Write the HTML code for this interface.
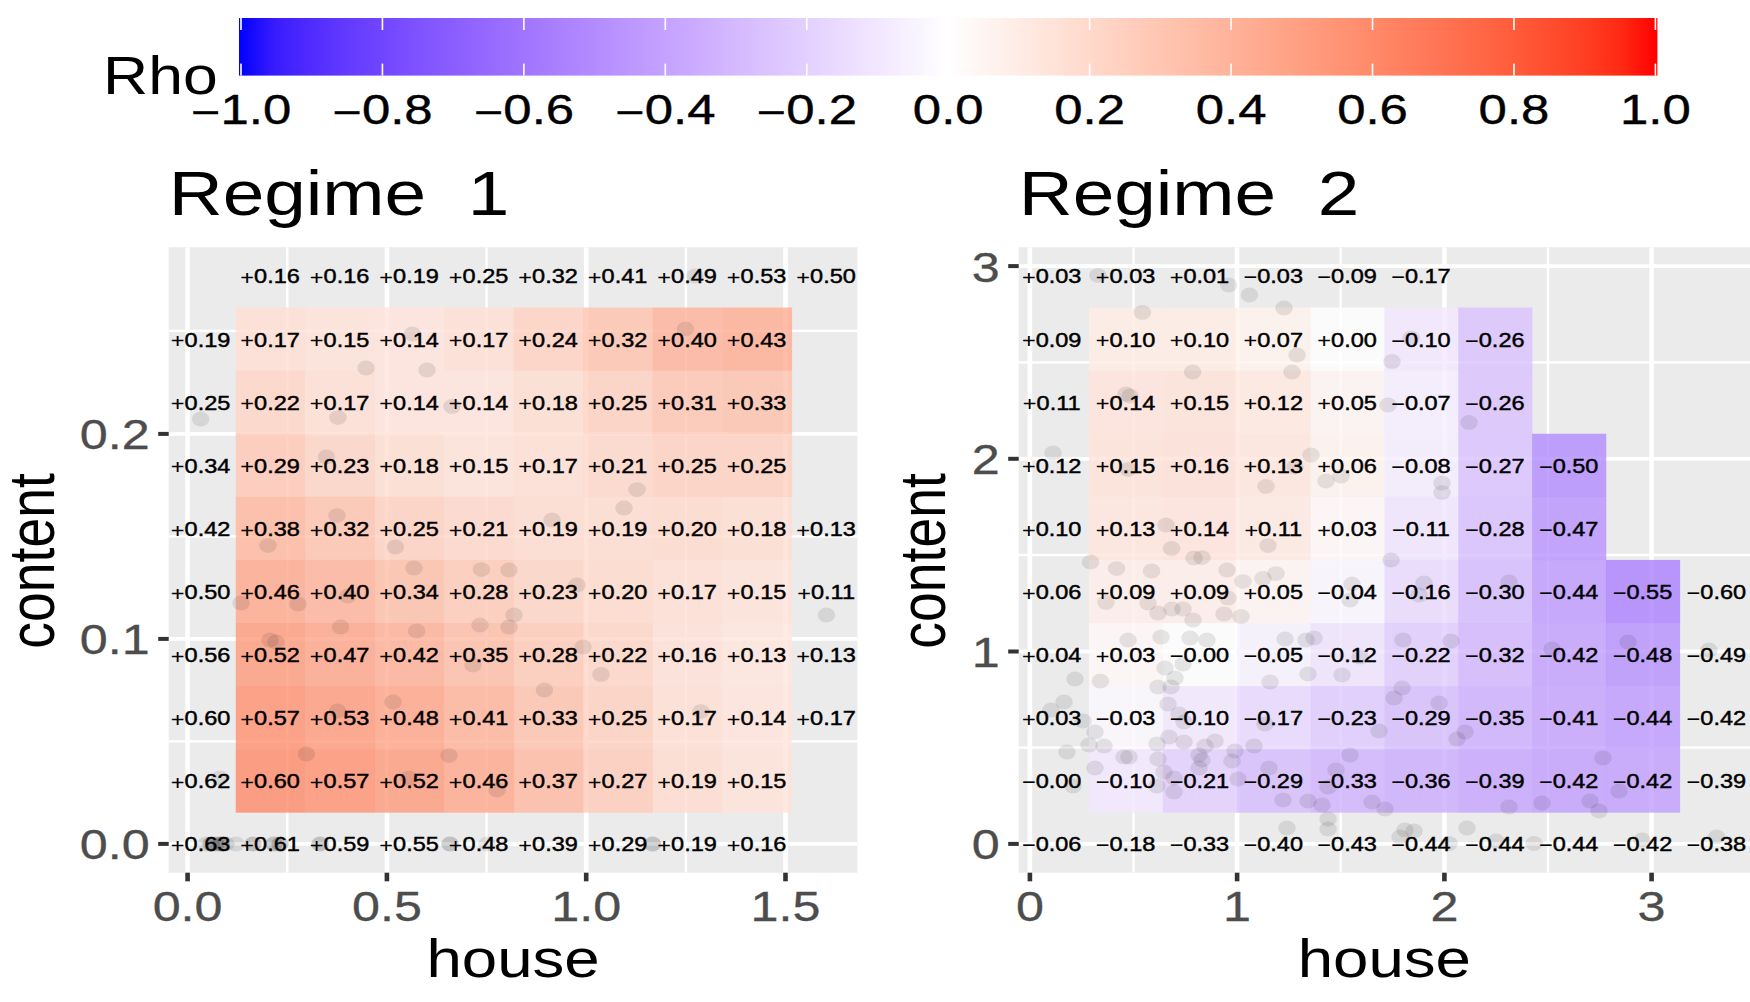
<!DOCTYPE html>
<html><head><meta charset="utf-8"><title>Rho regimes</title>
<style>html,body{margin:0;padding:0;background:#fff;overflow:hidden}svg{display:block}</style>
</head><body>
<svg width="1750" height="1002" viewBox="0 0 1750 1002" font-family="Liberation Sans, Arial, Helvetica, sans-serif">
<defs><linearGradient id="cb" x1="0" x2="1" y1="0" y2="0"><stop offset="0.0000" stop-color="#0000ff"/><stop offset="0.0250" stop-color="#381bff"/><stop offset="0.0500" stop-color="#502bff"/><stop offset="0.0750" stop-color="#6239ff"/><stop offset="0.1000" stop-color="#7145ff"/><stop offset="0.1250" stop-color="#7e52ff"/><stop offset="0.1500" stop-color="#8a5dff"/><stop offset="0.1750" stop-color="#9569ff"/><stop offset="0.2000" stop-color="#a074ff"/><stop offset="0.2250" stop-color="#aa80ff"/><stop offset="0.2500" stop-color="#b38bff"/><stop offset="0.2750" stop-color="#bc97ff"/><stop offset="0.3000" stop-color="#c4a2ff"/><stop offset="0.3250" stop-color="#ccadff"/><stop offset="0.3500" stop-color="#d4b9ff"/><stop offset="0.3750" stop-color="#dcc4ff"/><stop offset="0.4000" stop-color="#e3d0ff"/><stop offset="0.4250" stop-color="#ebdcff"/><stop offset="0.4500" stop-color="#f2e7ff"/><stop offset="0.4750" stop-color="#f8f3ff"/><stop offset="0.5000" stop-color="#ffffff"/><stop offset="0.5250" stop-color="#fff5f2"/><stop offset="0.5500" stop-color="#ffece5"/><stop offset="0.5750" stop-color="#ffe2d8"/><stop offset="0.6000" stop-color="#ffd9cb"/><stop offset="0.6250" stop-color="#ffcfbf"/><stop offset="0.6500" stop-color="#ffc6b2"/><stop offset="0.6750" stop-color="#ffbca6"/><stop offset="0.7000" stop-color="#ffb299"/><stop offset="0.7250" stop-color="#ffa88d"/><stop offset="0.7500" stop-color="#ff9e81"/><stop offset="0.7750" stop-color="#ff9475"/><stop offset="0.8000" stop-color="#ff8969"/><stop offset="0.8250" stop-color="#ff7e5e"/><stop offset="0.8500" stop-color="#ff7352"/><stop offset="0.8750" stop-color="#ff6846"/><stop offset="0.9000" stop-color="#ff5b3a"/><stop offset="0.9250" stop-color="#ff4d2e"/><stop offset="0.9500" stop-color="#ff3e22"/><stop offset="0.9750" stop-color="#ff2913"/><stop offset="1.0000" stop-color="#ff0000"/></linearGradient></defs>
<rect width="1750" height="1002" fill="#fff"/>
<rect x="239" y="18" width="1418.4" height="57.599999999999994" fill="url(#cb)"/>
<rect x="240.20" y="18" width="1.6" height="12" fill="#fff"/>
<rect x="240.20" y="63.599999999999994" width="1.6" height="12" fill="#fff"/>
<text transform="translate(241.00,124.00) scale(1.2,1)" font-size="42.4" fill="#000" text-anchor="middle" stroke="#000" stroke-width="0.4"><tspan dy="3.4" stroke-width="0.1">−</tspan><tspan dy="-3.4">1.0</tspan></text>
<rect x="381.64" y="18" width="1.6" height="12" fill="#fff"/>
<rect x="381.64" y="63.599999999999994" width="1.6" height="12" fill="#fff"/>
<text transform="translate(382.44,124.00) scale(1.2,1)" font-size="42.4" fill="#000" text-anchor="middle" stroke="#000" stroke-width="0.4"><tspan dy="3.4" stroke-width="0.1">−</tspan><tspan dy="-3.4">0.8</tspan></text>
<rect x="523.08" y="18" width="1.6" height="12" fill="#fff"/>
<rect x="523.08" y="63.599999999999994" width="1.6" height="12" fill="#fff"/>
<text transform="translate(523.88,124.00) scale(1.2,1)" font-size="42.4" fill="#000" text-anchor="middle" stroke="#000" stroke-width="0.4"><tspan dy="3.4" stroke-width="0.1">−</tspan><tspan dy="-3.4">0.6</tspan></text>
<rect x="664.52" y="18" width="1.6" height="12" fill="#fff"/>
<rect x="664.52" y="63.599999999999994" width="1.6" height="12" fill="#fff"/>
<text transform="translate(665.32,124.00) scale(1.2,1)" font-size="42.4" fill="#000" text-anchor="middle" stroke="#000" stroke-width="0.4"><tspan dy="3.4" stroke-width="0.1">−</tspan><tspan dy="-3.4">0.4</tspan></text>
<rect x="805.96" y="18" width="1.6" height="12" fill="#fff"/>
<rect x="805.96" y="63.599999999999994" width="1.6" height="12" fill="#fff"/>
<text transform="translate(806.76,124.00) scale(1.2,1)" font-size="42.4" fill="#000" text-anchor="middle" stroke="#000" stroke-width="0.4"><tspan dy="3.4" stroke-width="0.1">−</tspan><tspan dy="-3.4">0.2</tspan></text>
<rect x="947.40" y="18" width="1.6" height="12" fill="#fff"/>
<rect x="947.40" y="63.599999999999994" width="1.6" height="12" fill="#fff"/>
<text transform="translate(948.20,124.00) scale(1.2,1)" font-size="42.4" fill="#000" text-anchor="middle" stroke="#000" stroke-width="0.4">0.0</text>
<rect x="1088.84" y="18" width="1.6" height="12" fill="#fff"/>
<rect x="1088.84" y="63.599999999999994" width="1.6" height="12" fill="#fff"/>
<text transform="translate(1089.64,124.00) scale(1.2,1)" font-size="42.4" fill="#000" text-anchor="middle" stroke="#000" stroke-width="0.4">0.2</text>
<rect x="1230.28" y="18" width="1.6" height="12" fill="#fff"/>
<rect x="1230.28" y="63.599999999999994" width="1.6" height="12" fill="#fff"/>
<text transform="translate(1231.08,124.00) scale(1.2,1)" font-size="42.4" fill="#000" text-anchor="middle" stroke="#000" stroke-width="0.4">0.4</text>
<rect x="1371.72" y="18" width="1.6" height="12" fill="#fff"/>
<rect x="1371.72" y="63.599999999999994" width="1.6" height="12" fill="#fff"/>
<text transform="translate(1372.52,124.00) scale(1.2,1)" font-size="42.4" fill="#000" text-anchor="middle" stroke="#000" stroke-width="0.4">0.6</text>
<rect x="1513.16" y="18" width="1.6" height="12" fill="#fff"/>
<rect x="1513.16" y="63.599999999999994" width="1.6" height="12" fill="#fff"/>
<text transform="translate(1513.96,124.00) scale(1.2,1)" font-size="42.4" fill="#000" text-anchor="middle" stroke="#000" stroke-width="0.4">0.8</text>
<rect x="1654.60" y="18" width="1.6" height="12" fill="#fff"/>
<rect x="1654.60" y="63.599999999999994" width="1.6" height="12" fill="#fff"/>
<text transform="translate(1655.40,124.00) scale(1.2,1)" font-size="42.4" fill="#000" text-anchor="middle" stroke="#000" stroke-width="0.4">1.0</text>
<text transform="translate(103.00,94.00) scale(1.18,1)" font-size="53" fill="#000" text-anchor="start" >Rho</text>
<clipPath id="clip1"><rect x="168.7" y="247.2" width="688.7" height="625.5"/></clipPath>
<rect x="168.7" y="247.2" width="688.7" height="625.5" fill="#ebebeb"/>
<g clip-path="url(#clip1)">
<rect x="286.10" y="247.2" width="2.4" height="625.5" fill="#fff"/>
<rect x="485.40" y="247.2" width="2.4" height="625.5" fill="#fff"/>
<rect x="684.70" y="247.2" width="2.4" height="625.5" fill="#fff"/>
<rect x="168.7" y="740.20" width="688.7" height="2.4" fill="#fff"/>
<rect x="168.7" y="535.20" width="688.7" height="2.4" fill="#fff"/>
<rect x="168.7" y="329.70" width="688.7" height="2.4" fill="#fff"/>
<rect x="185.30" y="247.2" width="4.6" height="625.5" fill="#fff"/>
<rect x="384.60" y="247.2" width="4.6" height="625.5" fill="#fff"/>
<rect x="583.90" y="247.2" width="4.6" height="625.5" fill="#fff"/>
<rect x="783.20" y="247.2" width="4.6" height="625.5" fill="#fff"/>
<rect x="168.7" y="842.00" width="688.7" height="3.8" fill="#fff"/>
<rect x="168.7" y="637.00" width="688.7" height="3.8" fill="#fff"/>
<rect x="168.7" y="432.00" width="688.7" height="3.8" fill="#fff"/>
<rect x="235.75" y="307.55" width="69.80" height="63.40" fill="#ffdfd3" fill-opacity="0.8"/>
<rect x="305.25" y="307.55" width="69.80" height="63.40" fill="#ffe2d8" fill-opacity="0.8"/>
<rect x="374.75" y="307.55" width="69.80" height="63.40" fill="#ffe4db" fill-opacity="0.8"/>
<rect x="444.25" y="307.55" width="69.80" height="63.40" fill="#ffdfd3" fill-opacity="0.8"/>
<rect x="513.75" y="307.55" width="69.80" height="63.40" fill="#ffd1c1" fill-opacity="0.8"/>
<rect x="583.25" y="307.55" width="69.80" height="63.40" fill="#ffc2ad" fill-opacity="0.8"/>
<rect x="652.75" y="307.55" width="69.80" height="63.40" fill="#ffb299" fill-opacity="0.8"/>
<rect x="722.25" y="307.55" width="69.80" height="63.40" fill="#ffac92" fill-opacity="0.8"/>
<rect x="235.75" y="370.65" width="69.80" height="63.40" fill="#ffd5c6" fill-opacity="0.8"/>
<rect x="305.25" y="370.65" width="69.80" height="63.40" fill="#ffdfd3" fill-opacity="0.8"/>
<rect x="374.75" y="370.65" width="69.80" height="63.40" fill="#ffe4db" fill-opacity="0.8"/>
<rect x="444.25" y="370.65" width="69.80" height="63.40" fill="#ffe4db" fill-opacity="0.8"/>
<rect x="513.75" y="370.65" width="69.80" height="63.40" fill="#ffddd0" fill-opacity="0.8"/>
<rect x="583.25" y="370.65" width="69.80" height="63.40" fill="#ffcfbf" fill-opacity="0.8"/>
<rect x="652.75" y="370.65" width="69.80" height="63.40" fill="#ffc4b0" fill-opacity="0.8"/>
<rect x="722.25" y="370.65" width="69.80" height="63.40" fill="#ffc0ab" fill-opacity="0.8"/>
<rect x="235.75" y="433.75" width="69.80" height="63.40" fill="#ffc7b5" fill-opacity="0.8"/>
<rect x="305.25" y="433.75" width="69.80" height="63.40" fill="#ffd3c4" fill-opacity="0.8"/>
<rect x="374.75" y="433.75" width="69.80" height="63.40" fill="#ffddd0" fill-opacity="0.8"/>
<rect x="444.25" y="433.75" width="69.80" height="63.40" fill="#ffe2d8" fill-opacity="0.8"/>
<rect x="513.75" y="433.75" width="69.80" height="63.40" fill="#ffdfd3" fill-opacity="0.8"/>
<rect x="583.25" y="433.75" width="69.80" height="63.40" fill="#ffd7c9" fill-opacity="0.8"/>
<rect x="652.75" y="433.75" width="69.80" height="63.40" fill="#ffcfbf" fill-opacity="0.8"/>
<rect x="722.25" y="433.75" width="69.80" height="63.40" fill="#ffcfbf" fill-opacity="0.8"/>
<rect x="235.75" y="496.85" width="69.80" height="63.40" fill="#ffb69e" fill-opacity="0.8"/>
<rect x="305.25" y="496.85" width="69.80" height="63.40" fill="#ffc2ad" fill-opacity="0.8"/>
<rect x="374.75" y="496.85" width="69.80" height="63.40" fill="#ffcfbf" fill-opacity="0.8"/>
<rect x="444.25" y="496.85" width="69.80" height="63.40" fill="#ffd7c9" fill-opacity="0.8"/>
<rect x="513.75" y="496.85" width="69.80" height="63.40" fill="#ffdbce" fill-opacity="0.8"/>
<rect x="583.25" y="496.85" width="69.80" height="63.40" fill="#ffdbce" fill-opacity="0.8"/>
<rect x="652.75" y="496.85" width="69.80" height="63.40" fill="#ffd9cb" fill-opacity="0.8"/>
<rect x="722.25" y="496.85" width="69.80" height="63.40" fill="#ffddd0" fill-opacity="0.8"/>
<rect x="235.75" y="559.95" width="69.80" height="63.40" fill="#ffa68b" fill-opacity="0.8"/>
<rect x="305.25" y="559.95" width="69.80" height="63.40" fill="#ffb299" fill-opacity="0.8"/>
<rect x="374.75" y="559.95" width="69.80" height="63.40" fill="#ffbea8" fill-opacity="0.8"/>
<rect x="444.25" y="559.95" width="69.80" height="63.40" fill="#ffc9b7" fill-opacity="0.8"/>
<rect x="513.75" y="559.95" width="69.80" height="63.40" fill="#ffd3c4" fill-opacity="0.8"/>
<rect x="583.25" y="559.95" width="69.80" height="63.40" fill="#ffd9cb" fill-opacity="0.8"/>
<rect x="652.75" y="559.95" width="69.80" height="63.40" fill="#ffdfd3" fill-opacity="0.8"/>
<rect x="722.25" y="559.95" width="69.80" height="63.40" fill="#ffe2d8" fill-opacity="0.8"/>
<rect x="235.75" y="623.05" width="69.80" height="63.40" fill="#ff9a7c" fill-opacity="0.8"/>
<rect x="305.25" y="623.05" width="69.80" height="63.40" fill="#ffa488" fill-opacity="0.8"/>
<rect x="374.75" y="623.05" width="69.80" height="63.40" fill="#ffae95" fill-opacity="0.8"/>
<rect x="444.25" y="623.05" width="69.80" height="63.40" fill="#ffbca6" fill-opacity="0.8"/>
<rect x="513.75" y="623.05" width="69.80" height="63.40" fill="#ffc9b7" fill-opacity="0.8"/>
<rect x="583.25" y="623.05" width="69.80" height="63.40" fill="#ffd5c6" fill-opacity="0.8"/>
<rect x="652.75" y="623.05" width="69.80" height="63.40" fill="#ffe0d6" fill-opacity="0.8"/>
<rect x="722.25" y="623.05" width="69.80" height="63.40" fill="#ffe6dd" fill-opacity="0.8"/>
<rect x="235.75" y="686.15" width="69.80" height="63.40" fill="#ff9071" fill-opacity="0.8"/>
<rect x="305.25" y="686.15" width="69.80" height="63.40" fill="#ff987a" fill-opacity="0.8"/>
<rect x="374.75" y="686.15" width="69.80" height="63.40" fill="#ffa286" fill-opacity="0.8"/>
<rect x="444.25" y="686.15" width="69.80" height="63.40" fill="#ffb097" fill-opacity="0.8"/>
<rect x="513.75" y="686.15" width="69.80" height="63.40" fill="#ffc0ab" fill-opacity="0.8"/>
<rect x="583.25" y="686.15" width="69.80" height="63.40" fill="#ffcfbf" fill-opacity="0.8"/>
<rect x="652.75" y="686.15" width="69.80" height="63.40" fill="#ffdfd3" fill-opacity="0.8"/>
<rect x="722.25" y="686.15" width="69.80" height="63.40" fill="#ffe4db" fill-opacity="0.8"/>
<rect x="235.75" y="749.25" width="69.80" height="63.40" fill="#ff8969" fill-opacity="0.8"/>
<rect x="305.25" y="749.25" width="69.80" height="63.40" fill="#ff9071" fill-opacity="0.8"/>
<rect x="374.75" y="749.25" width="69.80" height="63.40" fill="#ff9a7c" fill-opacity="0.8"/>
<rect x="444.25" y="749.25" width="69.80" height="63.40" fill="#ffa68b" fill-opacity="0.8"/>
<rect x="513.75" y="749.25" width="69.80" height="63.40" fill="#ffb8a1" fill-opacity="0.8"/>
<rect x="583.25" y="749.25" width="69.80" height="63.40" fill="#ffcbba" fill-opacity="0.8"/>
<rect x="652.75" y="749.25" width="69.80" height="63.40" fill="#ffdbce" fill-opacity="0.8"/>
<rect x="722.25" y="749.25" width="69.80" height="63.40" fill="#ffe2d8" fill-opacity="0.8"/>
<ellipse cx="412.4" cy="334" rx="8.8" ry="7.4" fill="#000" fill-opacity="0.09"/>
<ellipse cx="366" cy="368" rx="8.8" ry="7.4" fill="#000" fill-opacity="0.09"/>
<ellipse cx="427" cy="370" rx="8.8" ry="7.4" fill="#000" fill-opacity="0.09"/>
<ellipse cx="200.6" cy="419" rx="8.8" ry="7.4" fill="#000" fill-opacity="0.09"/>
<ellipse cx="338" cy="417.6" rx="8.8" ry="7.4" fill="#000" fill-opacity="0.09"/>
<ellipse cx="452" cy="406.4" rx="8.8" ry="7.4" fill="#000" fill-opacity="0.09"/>
<ellipse cx="695" cy="276" rx="8.8" ry="7.4" fill="#000" fill-opacity="0.09"/>
<ellipse cx="685.4" cy="329" rx="8.8" ry="7.4" fill="#000" fill-opacity="0.09"/>
<ellipse cx="326.4" cy="457" rx="8.8" ry="7.4" fill="#000" fill-opacity="0.09"/>
<ellipse cx="337" cy="515.6" rx="8.8" ry="7.4" fill="#000" fill-opacity="0.09"/>
<ellipse cx="268" cy="545.6" rx="8.8" ry="7.4" fill="#000" fill-opacity="0.09"/>
<ellipse cx="395.4" cy="547" rx="8.8" ry="7.4" fill="#000" fill-opacity="0.09"/>
<ellipse cx="414" cy="568" rx="8.8" ry="7.4" fill="#000" fill-opacity="0.09"/>
<ellipse cx="481.4" cy="569.6" rx="8.8" ry="7.4" fill="#000" fill-opacity="0.09"/>
<ellipse cx="509" cy="570" rx="8.8" ry="7.4" fill="#000" fill-opacity="0.09"/>
<ellipse cx="241" cy="603" rx="8.8" ry="7.4" fill="#000" fill-opacity="0.09"/>
<ellipse cx="298" cy="604" rx="8.8" ry="7.4" fill="#000" fill-opacity="0.09"/>
<ellipse cx="348" cy="596" rx="8.8" ry="7.4" fill="#000" fill-opacity="0.09"/>
<ellipse cx="340.6" cy="627" rx="8.8" ry="7.4" fill="#000" fill-opacity="0.09"/>
<ellipse cx="416.6" cy="631" rx="8.8" ry="7.4" fill="#000" fill-opacity="0.09"/>
<ellipse cx="480" cy="625" rx="8.8" ry="7.4" fill="#000" fill-opacity="0.09"/>
<ellipse cx="509" cy="627" rx="8.8" ry="7.4" fill="#000" fill-opacity="0.09"/>
<ellipse cx="514" cy="615" rx="8.8" ry="7.4" fill="#000" fill-opacity="0.09"/>
<ellipse cx="637" cy="489.6" rx="8.8" ry="7.4" fill="#000" fill-opacity="0.09"/>
<ellipse cx="624" cy="508" rx="8.8" ry="7.4" fill="#000" fill-opacity="0.09"/>
<ellipse cx="552" cy="520" rx="8.8" ry="7.4" fill="#000" fill-opacity="0.09"/>
<ellipse cx="577" cy="585" rx="8.8" ry="7.4" fill="#000" fill-opacity="0.09"/>
<ellipse cx="826.4" cy="615" rx="8.8" ry="7.4" fill="#000" fill-opacity="0.09"/>
<ellipse cx="270" cy="640" rx="8.8" ry="7.4" fill="#000" fill-opacity="0.09"/>
<ellipse cx="276" cy="642" rx="8.8" ry="7.4" fill="#000" fill-opacity="0.09"/>
<ellipse cx="473" cy="665" rx="8.8" ry="7.4" fill="#000" fill-opacity="0.09"/>
<ellipse cx="393" cy="702" rx="8.8" ry="7.4" fill="#000" fill-opacity="0.09"/>
<ellipse cx="337.6" cy="711" rx="8.8" ry="7.4" fill="#000" fill-opacity="0.09"/>
<ellipse cx="306.4" cy="754" rx="8.8" ry="7.4" fill="#000" fill-opacity="0.09"/>
<ellipse cx="449" cy="755.6" rx="8.8" ry="7.4" fill="#000" fill-opacity="0.09"/>
<ellipse cx="220" cy="778" rx="8.8" ry="7.4" fill="#000" fill-opacity="0.09"/>
<ellipse cx="409" cy="778" rx="8.8" ry="7.4" fill="#000" fill-opacity="0.09"/>
<ellipse cx="497" cy="790" rx="8.8" ry="7.4" fill="#000" fill-opacity="0.09"/>
<ellipse cx="583" cy="647" rx="8.8" ry="7.4" fill="#000" fill-opacity="0.09"/>
<ellipse cx="601" cy="674.4" rx="8.8" ry="7.4" fill="#000" fill-opacity="0.09"/>
<ellipse cx="544.4" cy="690" rx="8.8" ry="7.4" fill="#000" fill-opacity="0.09"/>
<ellipse cx="701" cy="711.6" rx="8.8" ry="7.4" fill="#000" fill-opacity="0.09"/>
<ellipse cx="206" cy="844" rx="8.8" ry="7.4" fill="#000" fill-opacity="0.09"/>
<ellipse cx="211" cy="844" rx="8.8" ry="7.4" fill="#000" fill-opacity="0.09"/>
<ellipse cx="211" cy="844" rx="8.8" ry="7.4" fill="#000" fill-opacity="0.09"/>
<ellipse cx="216" cy="844" rx="8.8" ry="7.4" fill="#000" fill-opacity="0.09"/>
<ellipse cx="216" cy="844" rx="8.8" ry="7.4" fill="#000" fill-opacity="0.09"/>
<ellipse cx="221" cy="844" rx="8.8" ry="7.4" fill="#000" fill-opacity="0.09"/>
<ellipse cx="221" cy="844" rx="8.8" ry="7.4" fill="#000" fill-opacity="0.09"/>
<ellipse cx="221" cy="844" rx="8.8" ry="7.4" fill="#000" fill-opacity="0.09"/>
<ellipse cx="226" cy="844" rx="8.8" ry="7.4" fill="#000" fill-opacity="0.09"/>
<ellipse cx="236" cy="844" rx="8.8" ry="7.4" fill="#000" fill-opacity="0.09"/>
<ellipse cx="253" cy="844" rx="8.8" ry="7.4" fill="#000" fill-opacity="0.09"/>
<ellipse cx="253" cy="844" rx="8.8" ry="7.4" fill="#000" fill-opacity="0.09"/>
<ellipse cx="274" cy="844" rx="8.8" ry="7.4" fill="#000" fill-opacity="0.09"/>
<ellipse cx="274" cy="844" rx="8.8" ry="7.4" fill="#000" fill-opacity="0.09"/>
<ellipse cx="280" cy="844" rx="8.8" ry="7.4" fill="#000" fill-opacity="0.09"/>
<ellipse cx="280" cy="844" rx="8.8" ry="7.4" fill="#000" fill-opacity="0.09"/>
<ellipse cx="320" cy="844" rx="8.8" ry="7.4" fill="#000" fill-opacity="0.09"/>
<ellipse cx="320" cy="844" rx="8.8" ry="7.4" fill="#000" fill-opacity="0.09"/>
<ellipse cx="450" cy="844" rx="8.8" ry="7.4" fill="#000" fill-opacity="0.09"/>
<ellipse cx="450" cy="844" rx="8.8" ry="7.4" fill="#000" fill-opacity="0.09"/>
<ellipse cx="487" cy="844" rx="8.8" ry="7.4" fill="#000" fill-opacity="0.09"/>
<ellipse cx="652.5" cy="844" rx="8.8" ry="7.4" fill="#000" fill-opacity="0.09"/>
<ellipse cx="652.5" cy="844" rx="8.8" ry="7.4" fill="#000" fill-opacity="0.09"/>
<text transform="translate(270.10,283.40) scale(1.165,1)" font-size="20.2" fill="#000" text-anchor="middle" stroke="#000" stroke-width="0.45"><tspan dy="1.7" stroke-width="0.1">+</tspan><tspan dy="-1.7">0.16</tspan></text>
<text transform="translate(339.60,283.40) scale(1.165,1)" font-size="20.2" fill="#000" text-anchor="middle" stroke="#000" stroke-width="0.45"><tspan dy="1.7" stroke-width="0.1">+</tspan><tspan dy="-1.7">0.16</tspan></text>
<text transform="translate(409.10,283.40) scale(1.165,1)" font-size="20.2" fill="#000" text-anchor="middle" stroke="#000" stroke-width="0.45"><tspan dy="1.7" stroke-width="0.1">+</tspan><tspan dy="-1.7">0.19</tspan></text>
<text transform="translate(478.60,283.40) scale(1.165,1)" font-size="20.2" fill="#000" text-anchor="middle" stroke="#000" stroke-width="0.45"><tspan dy="1.7" stroke-width="0.1">+</tspan><tspan dy="-1.7">0.25</tspan></text>
<text transform="translate(548.10,283.40) scale(1.165,1)" font-size="20.2" fill="#000" text-anchor="middle" stroke="#000" stroke-width="0.45"><tspan dy="1.7" stroke-width="0.1">+</tspan><tspan dy="-1.7">0.32</tspan></text>
<text transform="translate(617.60,283.40) scale(1.165,1)" font-size="20.2" fill="#000" text-anchor="middle" stroke="#000" stroke-width="0.45"><tspan dy="1.7" stroke-width="0.1">+</tspan><tspan dy="-1.7">0.41</tspan></text>
<text transform="translate(687.10,283.40) scale(1.165,1)" font-size="20.2" fill="#000" text-anchor="middle" stroke="#000" stroke-width="0.45"><tspan dy="1.7" stroke-width="0.1">+</tspan><tspan dy="-1.7">0.49</tspan></text>
<text transform="translate(756.60,283.40) scale(1.165,1)" font-size="20.2" fill="#000" text-anchor="middle" stroke="#000" stroke-width="0.45"><tspan dy="1.7" stroke-width="0.1">+</tspan><tspan dy="-1.7">0.53</tspan></text>
<text transform="translate(826.10,283.40) scale(1.165,1)" font-size="20.2" fill="#000" text-anchor="middle" stroke="#000" stroke-width="0.45"><tspan dy="1.7" stroke-width="0.1">+</tspan><tspan dy="-1.7">0.50</tspan></text>
<text transform="translate(200.60,346.50) scale(1.165,1)" font-size="20.2" fill="#000" text-anchor="middle" stroke="#000" stroke-width="0.45"><tspan dy="1.7" stroke-width="0.1">+</tspan><tspan dy="-1.7">0.19</tspan></text>
<text transform="translate(270.10,346.50) scale(1.165,1)" font-size="20.2" fill="#000" text-anchor="middle" stroke="#000" stroke-width="0.45"><tspan dy="1.7" stroke-width="0.1">+</tspan><tspan dy="-1.7">0.17</tspan></text>
<text transform="translate(339.60,346.50) scale(1.165,1)" font-size="20.2" fill="#000" text-anchor="middle" stroke="#000" stroke-width="0.45"><tspan dy="1.7" stroke-width="0.1">+</tspan><tspan dy="-1.7">0.15</tspan></text>
<text transform="translate(409.10,346.50) scale(1.165,1)" font-size="20.2" fill="#000" text-anchor="middle" stroke="#000" stroke-width="0.45"><tspan dy="1.7" stroke-width="0.1">+</tspan><tspan dy="-1.7">0.14</tspan></text>
<text transform="translate(478.60,346.50) scale(1.165,1)" font-size="20.2" fill="#000" text-anchor="middle" stroke="#000" stroke-width="0.45"><tspan dy="1.7" stroke-width="0.1">+</tspan><tspan dy="-1.7">0.17</tspan></text>
<text transform="translate(548.10,346.50) scale(1.165,1)" font-size="20.2" fill="#000" text-anchor="middle" stroke="#000" stroke-width="0.45"><tspan dy="1.7" stroke-width="0.1">+</tspan><tspan dy="-1.7">0.24</tspan></text>
<text transform="translate(617.60,346.50) scale(1.165,1)" font-size="20.2" fill="#000" text-anchor="middle" stroke="#000" stroke-width="0.45"><tspan dy="1.7" stroke-width="0.1">+</tspan><tspan dy="-1.7">0.32</tspan></text>
<text transform="translate(687.10,346.50) scale(1.165,1)" font-size="20.2" fill="#000" text-anchor="middle" stroke="#000" stroke-width="0.45"><tspan dy="1.7" stroke-width="0.1">+</tspan><tspan dy="-1.7">0.40</tspan></text>
<text transform="translate(756.60,346.50) scale(1.165,1)" font-size="20.2" fill="#000" text-anchor="middle" stroke="#000" stroke-width="0.45"><tspan dy="1.7" stroke-width="0.1">+</tspan><tspan dy="-1.7">0.43</tspan></text>
<text transform="translate(200.60,409.60) scale(1.165,1)" font-size="20.2" fill="#000" text-anchor="middle" stroke="#000" stroke-width="0.45"><tspan dy="1.7" stroke-width="0.1">+</tspan><tspan dy="-1.7">0.25</tspan></text>
<text transform="translate(270.10,409.60) scale(1.165,1)" font-size="20.2" fill="#000" text-anchor="middle" stroke="#000" stroke-width="0.45"><tspan dy="1.7" stroke-width="0.1">+</tspan><tspan dy="-1.7">0.22</tspan></text>
<text transform="translate(339.60,409.60) scale(1.165,1)" font-size="20.2" fill="#000" text-anchor="middle" stroke="#000" stroke-width="0.45"><tspan dy="1.7" stroke-width="0.1">+</tspan><tspan dy="-1.7">0.17</tspan></text>
<text transform="translate(409.10,409.60) scale(1.165,1)" font-size="20.2" fill="#000" text-anchor="middle" stroke="#000" stroke-width="0.45"><tspan dy="1.7" stroke-width="0.1">+</tspan><tspan dy="-1.7">0.14</tspan></text>
<text transform="translate(478.60,409.60) scale(1.165,1)" font-size="20.2" fill="#000" text-anchor="middle" stroke="#000" stroke-width="0.45"><tspan dy="1.7" stroke-width="0.1">+</tspan><tspan dy="-1.7">0.14</tspan></text>
<text transform="translate(548.10,409.60) scale(1.165,1)" font-size="20.2" fill="#000" text-anchor="middle" stroke="#000" stroke-width="0.45"><tspan dy="1.7" stroke-width="0.1">+</tspan><tspan dy="-1.7">0.18</tspan></text>
<text transform="translate(617.60,409.60) scale(1.165,1)" font-size="20.2" fill="#000" text-anchor="middle" stroke="#000" stroke-width="0.45"><tspan dy="1.7" stroke-width="0.1">+</tspan><tspan dy="-1.7">0.25</tspan></text>
<text transform="translate(687.10,409.60) scale(1.165,1)" font-size="20.2" fill="#000" text-anchor="middle" stroke="#000" stroke-width="0.45"><tspan dy="1.7" stroke-width="0.1">+</tspan><tspan dy="-1.7">0.31</tspan></text>
<text transform="translate(756.60,409.60) scale(1.165,1)" font-size="20.2" fill="#000" text-anchor="middle" stroke="#000" stroke-width="0.45"><tspan dy="1.7" stroke-width="0.1">+</tspan><tspan dy="-1.7">0.33</tspan></text>
<text transform="translate(200.60,472.70) scale(1.165,1)" font-size="20.2" fill="#000" text-anchor="middle" stroke="#000" stroke-width="0.45"><tspan dy="1.7" stroke-width="0.1">+</tspan><tspan dy="-1.7">0.34</tspan></text>
<text transform="translate(270.10,472.70) scale(1.165,1)" font-size="20.2" fill="#000" text-anchor="middle" stroke="#000" stroke-width="0.45"><tspan dy="1.7" stroke-width="0.1">+</tspan><tspan dy="-1.7">0.29</tspan></text>
<text transform="translate(339.60,472.70) scale(1.165,1)" font-size="20.2" fill="#000" text-anchor="middle" stroke="#000" stroke-width="0.45"><tspan dy="1.7" stroke-width="0.1">+</tspan><tspan dy="-1.7">0.23</tspan></text>
<text transform="translate(409.10,472.70) scale(1.165,1)" font-size="20.2" fill="#000" text-anchor="middle" stroke="#000" stroke-width="0.45"><tspan dy="1.7" stroke-width="0.1">+</tspan><tspan dy="-1.7">0.18</tspan></text>
<text transform="translate(478.60,472.70) scale(1.165,1)" font-size="20.2" fill="#000" text-anchor="middle" stroke="#000" stroke-width="0.45"><tspan dy="1.7" stroke-width="0.1">+</tspan><tspan dy="-1.7">0.15</tspan></text>
<text transform="translate(548.10,472.70) scale(1.165,1)" font-size="20.2" fill="#000" text-anchor="middle" stroke="#000" stroke-width="0.45"><tspan dy="1.7" stroke-width="0.1">+</tspan><tspan dy="-1.7">0.17</tspan></text>
<text transform="translate(617.60,472.70) scale(1.165,1)" font-size="20.2" fill="#000" text-anchor="middle" stroke="#000" stroke-width="0.45"><tspan dy="1.7" stroke-width="0.1">+</tspan><tspan dy="-1.7">0.21</tspan></text>
<text transform="translate(687.10,472.70) scale(1.165,1)" font-size="20.2" fill="#000" text-anchor="middle" stroke="#000" stroke-width="0.45"><tspan dy="1.7" stroke-width="0.1">+</tspan><tspan dy="-1.7">0.25</tspan></text>
<text transform="translate(756.60,472.70) scale(1.165,1)" font-size="20.2" fill="#000" text-anchor="middle" stroke="#000" stroke-width="0.45"><tspan dy="1.7" stroke-width="0.1">+</tspan><tspan dy="-1.7">0.25</tspan></text>
<text transform="translate(200.60,535.80) scale(1.165,1)" font-size="20.2" fill="#000" text-anchor="middle" stroke="#000" stroke-width="0.45"><tspan dy="1.7" stroke-width="0.1">+</tspan><tspan dy="-1.7">0.42</tspan></text>
<text transform="translate(270.10,535.80) scale(1.165,1)" font-size="20.2" fill="#000" text-anchor="middle" stroke="#000" stroke-width="0.45"><tspan dy="1.7" stroke-width="0.1">+</tspan><tspan dy="-1.7">0.38</tspan></text>
<text transform="translate(339.60,535.80) scale(1.165,1)" font-size="20.2" fill="#000" text-anchor="middle" stroke="#000" stroke-width="0.45"><tspan dy="1.7" stroke-width="0.1">+</tspan><tspan dy="-1.7">0.32</tspan></text>
<text transform="translate(409.10,535.80) scale(1.165,1)" font-size="20.2" fill="#000" text-anchor="middle" stroke="#000" stroke-width="0.45"><tspan dy="1.7" stroke-width="0.1">+</tspan><tspan dy="-1.7">0.25</tspan></text>
<text transform="translate(478.60,535.80) scale(1.165,1)" font-size="20.2" fill="#000" text-anchor="middle" stroke="#000" stroke-width="0.45"><tspan dy="1.7" stroke-width="0.1">+</tspan><tspan dy="-1.7">0.21</tspan></text>
<text transform="translate(548.10,535.80) scale(1.165,1)" font-size="20.2" fill="#000" text-anchor="middle" stroke="#000" stroke-width="0.45"><tspan dy="1.7" stroke-width="0.1">+</tspan><tspan dy="-1.7">0.19</tspan></text>
<text transform="translate(617.60,535.80) scale(1.165,1)" font-size="20.2" fill="#000" text-anchor="middle" stroke="#000" stroke-width="0.45"><tspan dy="1.7" stroke-width="0.1">+</tspan><tspan dy="-1.7">0.19</tspan></text>
<text transform="translate(687.10,535.80) scale(1.165,1)" font-size="20.2" fill="#000" text-anchor="middle" stroke="#000" stroke-width="0.45"><tspan dy="1.7" stroke-width="0.1">+</tspan><tspan dy="-1.7">0.20</tspan></text>
<text transform="translate(756.60,535.80) scale(1.165,1)" font-size="20.2" fill="#000" text-anchor="middle" stroke="#000" stroke-width="0.45"><tspan dy="1.7" stroke-width="0.1">+</tspan><tspan dy="-1.7">0.18</tspan></text>
<text transform="translate(826.10,535.80) scale(1.165,1)" font-size="20.2" fill="#000" text-anchor="middle" stroke="#000" stroke-width="0.45"><tspan dy="1.7" stroke-width="0.1">+</tspan><tspan dy="-1.7">0.13</tspan></text>
<text transform="translate(200.60,598.90) scale(1.165,1)" font-size="20.2" fill="#000" text-anchor="middle" stroke="#000" stroke-width="0.45"><tspan dy="1.7" stroke-width="0.1">+</tspan><tspan dy="-1.7">0.50</tspan></text>
<text transform="translate(270.10,598.90) scale(1.165,1)" font-size="20.2" fill="#000" text-anchor="middle" stroke="#000" stroke-width="0.45"><tspan dy="1.7" stroke-width="0.1">+</tspan><tspan dy="-1.7">0.46</tspan></text>
<text transform="translate(339.60,598.90) scale(1.165,1)" font-size="20.2" fill="#000" text-anchor="middle" stroke="#000" stroke-width="0.45"><tspan dy="1.7" stroke-width="0.1">+</tspan><tspan dy="-1.7">0.40</tspan></text>
<text transform="translate(409.10,598.90) scale(1.165,1)" font-size="20.2" fill="#000" text-anchor="middle" stroke="#000" stroke-width="0.45"><tspan dy="1.7" stroke-width="0.1">+</tspan><tspan dy="-1.7">0.34</tspan></text>
<text transform="translate(478.60,598.90) scale(1.165,1)" font-size="20.2" fill="#000" text-anchor="middle" stroke="#000" stroke-width="0.45"><tspan dy="1.7" stroke-width="0.1">+</tspan><tspan dy="-1.7">0.28</tspan></text>
<text transform="translate(548.10,598.90) scale(1.165,1)" font-size="20.2" fill="#000" text-anchor="middle" stroke="#000" stroke-width="0.45"><tspan dy="1.7" stroke-width="0.1">+</tspan><tspan dy="-1.7">0.23</tspan></text>
<text transform="translate(617.60,598.90) scale(1.165,1)" font-size="20.2" fill="#000" text-anchor="middle" stroke="#000" stroke-width="0.45"><tspan dy="1.7" stroke-width="0.1">+</tspan><tspan dy="-1.7">0.20</tspan></text>
<text transform="translate(687.10,598.90) scale(1.165,1)" font-size="20.2" fill="#000" text-anchor="middle" stroke="#000" stroke-width="0.45"><tspan dy="1.7" stroke-width="0.1">+</tspan><tspan dy="-1.7">0.17</tspan></text>
<text transform="translate(756.60,598.90) scale(1.165,1)" font-size="20.2" fill="#000" text-anchor="middle" stroke="#000" stroke-width="0.45"><tspan dy="1.7" stroke-width="0.1">+</tspan><tspan dy="-1.7">0.15</tspan></text>
<text transform="translate(826.10,598.90) scale(1.165,1)" font-size="20.2" fill="#000" text-anchor="middle" stroke="#000" stroke-width="0.45"><tspan dy="1.7" stroke-width="0.1">+</tspan><tspan dy="-1.7">0.11</tspan></text>
<text transform="translate(200.60,662.00) scale(1.165,1)" font-size="20.2" fill="#000" text-anchor="middle" stroke="#000" stroke-width="0.45"><tspan dy="1.7" stroke-width="0.1">+</tspan><tspan dy="-1.7">0.56</tspan></text>
<text transform="translate(270.10,662.00) scale(1.165,1)" font-size="20.2" fill="#000" text-anchor="middle" stroke="#000" stroke-width="0.45"><tspan dy="1.7" stroke-width="0.1">+</tspan><tspan dy="-1.7">0.52</tspan></text>
<text transform="translate(339.60,662.00) scale(1.165,1)" font-size="20.2" fill="#000" text-anchor="middle" stroke="#000" stroke-width="0.45"><tspan dy="1.7" stroke-width="0.1">+</tspan><tspan dy="-1.7">0.47</tspan></text>
<text transform="translate(409.10,662.00) scale(1.165,1)" font-size="20.2" fill="#000" text-anchor="middle" stroke="#000" stroke-width="0.45"><tspan dy="1.7" stroke-width="0.1">+</tspan><tspan dy="-1.7">0.42</tspan></text>
<text transform="translate(478.60,662.00) scale(1.165,1)" font-size="20.2" fill="#000" text-anchor="middle" stroke="#000" stroke-width="0.45"><tspan dy="1.7" stroke-width="0.1">+</tspan><tspan dy="-1.7">0.35</tspan></text>
<text transform="translate(548.10,662.00) scale(1.165,1)" font-size="20.2" fill="#000" text-anchor="middle" stroke="#000" stroke-width="0.45"><tspan dy="1.7" stroke-width="0.1">+</tspan><tspan dy="-1.7">0.28</tspan></text>
<text transform="translate(617.60,662.00) scale(1.165,1)" font-size="20.2" fill="#000" text-anchor="middle" stroke="#000" stroke-width="0.45"><tspan dy="1.7" stroke-width="0.1">+</tspan><tspan dy="-1.7">0.22</tspan></text>
<text transform="translate(687.10,662.00) scale(1.165,1)" font-size="20.2" fill="#000" text-anchor="middle" stroke="#000" stroke-width="0.45"><tspan dy="1.7" stroke-width="0.1">+</tspan><tspan dy="-1.7">0.16</tspan></text>
<text transform="translate(756.60,662.00) scale(1.165,1)" font-size="20.2" fill="#000" text-anchor="middle" stroke="#000" stroke-width="0.45"><tspan dy="1.7" stroke-width="0.1">+</tspan><tspan dy="-1.7">0.13</tspan></text>
<text transform="translate(826.10,662.00) scale(1.165,1)" font-size="20.2" fill="#000" text-anchor="middle" stroke="#000" stroke-width="0.45"><tspan dy="1.7" stroke-width="0.1">+</tspan><tspan dy="-1.7">0.13</tspan></text>
<text transform="translate(200.60,725.10) scale(1.165,1)" font-size="20.2" fill="#000" text-anchor="middle" stroke="#000" stroke-width="0.45"><tspan dy="1.7" stroke-width="0.1">+</tspan><tspan dy="-1.7">0.60</tspan></text>
<text transform="translate(270.10,725.10) scale(1.165,1)" font-size="20.2" fill="#000" text-anchor="middle" stroke="#000" stroke-width="0.45"><tspan dy="1.7" stroke-width="0.1">+</tspan><tspan dy="-1.7">0.57</tspan></text>
<text transform="translate(339.60,725.10) scale(1.165,1)" font-size="20.2" fill="#000" text-anchor="middle" stroke="#000" stroke-width="0.45"><tspan dy="1.7" stroke-width="0.1">+</tspan><tspan dy="-1.7">0.53</tspan></text>
<text transform="translate(409.10,725.10) scale(1.165,1)" font-size="20.2" fill="#000" text-anchor="middle" stroke="#000" stroke-width="0.45"><tspan dy="1.7" stroke-width="0.1">+</tspan><tspan dy="-1.7">0.48</tspan></text>
<text transform="translate(478.60,725.10) scale(1.165,1)" font-size="20.2" fill="#000" text-anchor="middle" stroke="#000" stroke-width="0.45"><tspan dy="1.7" stroke-width="0.1">+</tspan><tspan dy="-1.7">0.41</tspan></text>
<text transform="translate(548.10,725.10) scale(1.165,1)" font-size="20.2" fill="#000" text-anchor="middle" stroke="#000" stroke-width="0.45"><tspan dy="1.7" stroke-width="0.1">+</tspan><tspan dy="-1.7">0.33</tspan></text>
<text transform="translate(617.60,725.10) scale(1.165,1)" font-size="20.2" fill="#000" text-anchor="middle" stroke="#000" stroke-width="0.45"><tspan dy="1.7" stroke-width="0.1">+</tspan><tspan dy="-1.7">0.25</tspan></text>
<text transform="translate(687.10,725.10) scale(1.165,1)" font-size="20.2" fill="#000" text-anchor="middle" stroke="#000" stroke-width="0.45"><tspan dy="1.7" stroke-width="0.1">+</tspan><tspan dy="-1.7">0.17</tspan></text>
<text transform="translate(756.60,725.10) scale(1.165,1)" font-size="20.2" fill="#000" text-anchor="middle" stroke="#000" stroke-width="0.45"><tspan dy="1.7" stroke-width="0.1">+</tspan><tspan dy="-1.7">0.14</tspan></text>
<text transform="translate(826.10,725.10) scale(1.165,1)" font-size="20.2" fill="#000" text-anchor="middle" stroke="#000" stroke-width="0.45"><tspan dy="1.7" stroke-width="0.1">+</tspan><tspan dy="-1.7">0.17</tspan></text>
<text transform="translate(200.60,788.20) scale(1.165,1)" font-size="20.2" fill="#000" text-anchor="middle" stroke="#000" stroke-width="0.45"><tspan dy="1.7" stroke-width="0.1">+</tspan><tspan dy="-1.7">0.62</tspan></text>
<text transform="translate(270.10,788.20) scale(1.165,1)" font-size="20.2" fill="#000" text-anchor="middle" stroke="#000" stroke-width="0.45"><tspan dy="1.7" stroke-width="0.1">+</tspan><tspan dy="-1.7">0.60</tspan></text>
<text transform="translate(339.60,788.20) scale(1.165,1)" font-size="20.2" fill="#000" text-anchor="middle" stroke="#000" stroke-width="0.45"><tspan dy="1.7" stroke-width="0.1">+</tspan><tspan dy="-1.7">0.57</tspan></text>
<text transform="translate(409.10,788.20) scale(1.165,1)" font-size="20.2" fill="#000" text-anchor="middle" stroke="#000" stroke-width="0.45"><tspan dy="1.7" stroke-width="0.1">+</tspan><tspan dy="-1.7">0.52</tspan></text>
<text transform="translate(478.60,788.20) scale(1.165,1)" font-size="20.2" fill="#000" text-anchor="middle" stroke="#000" stroke-width="0.45"><tspan dy="1.7" stroke-width="0.1">+</tspan><tspan dy="-1.7">0.46</tspan></text>
<text transform="translate(548.10,788.20) scale(1.165,1)" font-size="20.2" fill="#000" text-anchor="middle" stroke="#000" stroke-width="0.45"><tspan dy="1.7" stroke-width="0.1">+</tspan><tspan dy="-1.7">0.37</tspan></text>
<text transform="translate(617.60,788.20) scale(1.165,1)" font-size="20.2" fill="#000" text-anchor="middle" stroke="#000" stroke-width="0.45"><tspan dy="1.7" stroke-width="0.1">+</tspan><tspan dy="-1.7">0.27</tspan></text>
<text transform="translate(687.10,788.20) scale(1.165,1)" font-size="20.2" fill="#000" text-anchor="middle" stroke="#000" stroke-width="0.45"><tspan dy="1.7" stroke-width="0.1">+</tspan><tspan dy="-1.7">0.19</tspan></text>
<text transform="translate(756.60,788.20) scale(1.165,1)" font-size="20.2" fill="#000" text-anchor="middle" stroke="#000" stroke-width="0.45"><tspan dy="1.7" stroke-width="0.1">+</tspan><tspan dy="-1.7">0.15</tspan></text>
<text transform="translate(200.60,851.30) scale(1.165,1)" font-size="20.2" fill="#000" text-anchor="middle" stroke="#000" stroke-width="0.45"><tspan dy="1.7" stroke-width="0.1">+</tspan><tspan dy="-1.7">0.63</tspan></text>
<text transform="translate(270.10,851.30) scale(1.165,1)" font-size="20.2" fill="#000" text-anchor="middle" stroke="#000" stroke-width="0.45"><tspan dy="1.7" stroke-width="0.1">+</tspan><tspan dy="-1.7">0.61</tspan></text>
<text transform="translate(339.60,851.30) scale(1.165,1)" font-size="20.2" fill="#000" text-anchor="middle" stroke="#000" stroke-width="0.45"><tspan dy="1.7" stroke-width="0.1">+</tspan><tspan dy="-1.7">0.59</tspan></text>
<text transform="translate(409.10,851.30) scale(1.165,1)" font-size="20.2" fill="#000" text-anchor="middle" stroke="#000" stroke-width="0.45"><tspan dy="1.7" stroke-width="0.1">+</tspan><tspan dy="-1.7">0.55</tspan></text>
<text transform="translate(478.60,851.30) scale(1.165,1)" font-size="20.2" fill="#000" text-anchor="middle" stroke="#000" stroke-width="0.45"><tspan dy="1.7" stroke-width="0.1">+</tspan><tspan dy="-1.7">0.48</tspan></text>
<text transform="translate(548.10,851.30) scale(1.165,1)" font-size="20.2" fill="#000" text-anchor="middle" stroke="#000" stroke-width="0.45"><tspan dy="1.7" stroke-width="0.1">+</tspan><tspan dy="-1.7">0.39</tspan></text>
<text transform="translate(617.60,851.30) scale(1.165,1)" font-size="20.2" fill="#000" text-anchor="middle" stroke="#000" stroke-width="0.45"><tspan dy="1.7" stroke-width="0.1">+</tspan><tspan dy="-1.7">0.29</tspan></text>
<text transform="translate(687.10,851.30) scale(1.165,1)" font-size="20.2" fill="#000" text-anchor="middle" stroke="#000" stroke-width="0.45"><tspan dy="1.7" stroke-width="0.1">+</tspan><tspan dy="-1.7">0.19</tspan></text>
<text transform="translate(756.60,851.30) scale(1.165,1)" font-size="20.2" fill="#000" text-anchor="middle" stroke="#000" stroke-width="0.45"><tspan dy="1.7" stroke-width="0.1">+</tspan><tspan dy="-1.7">0.16</tspan></text>
</g>
<rect x="185.30" y="872.7" width="4.6" height="8.6" fill="#333"/>
<text transform="translate(187.60,920.60) scale(1.17,1)" font-size="43" fill="#4d4d4d" text-anchor="middle" stroke="#4d4d4d" stroke-width="0.3">0.0</text>
<rect x="384.60" y="872.7" width="4.6" height="8.6" fill="#333"/>
<text transform="translate(386.90,920.60) scale(1.17,1)" font-size="43" fill="#4d4d4d" text-anchor="middle" stroke="#4d4d4d" stroke-width="0.3">0.5</text>
<rect x="583.90" y="872.7" width="4.6" height="8.6" fill="#333"/>
<text transform="translate(586.20,920.60) scale(1.17,1)" font-size="43" fill="#4d4d4d" text-anchor="middle" stroke="#4d4d4d" stroke-width="0.3">1.0</text>
<rect x="783.20" y="872.7" width="4.6" height="8.6" fill="#333"/>
<text transform="translate(785.50,920.60) scale(1.17,1)" font-size="43" fill="#4d4d4d" text-anchor="middle" stroke="#4d4d4d" stroke-width="0.3">1.5</text>
<rect x="158.20" y="841.90" width="10.5" height="4" fill="#333"/>
<text transform="translate(149.70,859.30) scale(1.17,1)" font-size="43" fill="#4d4d4d" text-anchor="end" stroke="#4d4d4d" stroke-width="0.3">0.0</text>
<rect x="158.20" y="636.90" width="10.5" height="4" fill="#333"/>
<text transform="translate(149.70,654.30) scale(1.17,1)" font-size="43" fill="#4d4d4d" text-anchor="end" stroke="#4d4d4d" stroke-width="0.3">0.1</text>
<rect x="158.20" y="431.90" width="10.5" height="4" fill="#333"/>
<text transform="translate(149.70,449.30) scale(1.17,1)" font-size="43" fill="#4d4d4d" text-anchor="end" stroke="#4d4d4d" stroke-width="0.3">0.2</text>
<text transform="translate(168.70,215.00) scale(1.175,1)" font-size="63.6" fill="#000" text-anchor="start" xml:space="preserve">Regime  1</text>
<text transform="translate(513.05,977.00) scale(1.2,1)" font-size="53" fill="#000" text-anchor="middle" >house</text>
<text transform="translate(53.50,560.95) scale(1.2,1) rotate(-90)" font-size="53.5" fill="#000" text-anchor="middle" >content</text>
<clipPath id="clip2"><rect x="1018.7" y="247.2" width="731.3" height="625.5"/></clipPath>
<rect x="1018.7" y="247.2" width="731.3" height="625.5" fill="#ebebeb"/>
<g clip-path="url(#clip2)">
<rect x="1132.30" y="247.2" width="2.4" height="625.5" fill="#fff"/>
<rect x="1339.50" y="247.2" width="2.4" height="625.5" fill="#fff"/>
<rect x="1546.80" y="247.2" width="2.4" height="625.5" fill="#fff"/>
<rect x="1018.7" y="746.40" width="731.3" height="2.4" fill="#fff"/>
<rect x="1018.7" y="553.80" width="731.3" height="2.4" fill="#fff"/>
<rect x="1018.7" y="361.20" width="731.3" height="2.4" fill="#fff"/>
<rect x="1027.60" y="247.2" width="4.6" height="625.5" fill="#fff"/>
<rect x="1234.80" y="247.2" width="4.6" height="625.5" fill="#fff"/>
<rect x="1442.10" y="247.2" width="4.6" height="625.5" fill="#fff"/>
<rect x="1649.30" y="247.2" width="4.6" height="625.5" fill="#fff"/>
<rect x="1018.7" y="842.00" width="731.3" height="3.8" fill="#fff"/>
<rect x="1018.7" y="649.60" width="731.3" height="3.8" fill="#fff"/>
<rect x="1018.7" y="456.90" width="731.3" height="3.8" fill="#fff"/>
<rect x="1018.7" y="264.20" width="731.3" height="3.8" fill="#fff"/>
<rect x="1089.02" y="307.55" width="74.15" height="63.40" fill="#ffece5" fill-opacity="0.8"/>
<rect x="1162.88" y="307.55" width="74.15" height="63.40" fill="#ffece5" fill-opacity="0.8"/>
<rect x="1236.72" y="307.55" width="74.15" height="63.40" fill="#fff2ed" fill-opacity="0.8"/>
<rect x="1310.57" y="307.55" width="74.15" height="63.40" fill="#ffffff" fill-opacity="0.8"/>
<rect x="1384.42" y="307.55" width="74.15" height="63.40" fill="#f2e7ff" fill-opacity="0.8"/>
<rect x="1458.27" y="307.55" width="74.15" height="63.40" fill="#dac2ff" fill-opacity="0.8"/>
<rect x="1089.02" y="370.65" width="74.15" height="63.40" fill="#ffe4db" fill-opacity="0.8"/>
<rect x="1162.88" y="370.65" width="74.15" height="63.40" fill="#ffe2d8" fill-opacity="0.8"/>
<rect x="1236.72" y="370.65" width="74.15" height="63.40" fill="#ffe8e0" fill-opacity="0.8"/>
<rect x="1310.57" y="370.65" width="74.15" height="63.40" fill="#fff5f2" fill-opacity="0.8"/>
<rect x="1384.42" y="370.65" width="74.15" height="63.40" fill="#f6eeff" fill-opacity="0.8"/>
<rect x="1458.27" y="370.65" width="74.15" height="63.40" fill="#dac2ff" fill-opacity="0.8"/>
<rect x="1089.02" y="433.75" width="74.15" height="63.40" fill="#ffe2d8" fill-opacity="0.8"/>
<rect x="1162.88" y="433.75" width="74.15" height="63.40" fill="#ffe0d6" fill-opacity="0.8"/>
<rect x="1236.72" y="433.75" width="74.15" height="63.40" fill="#ffe6dd" fill-opacity="0.8"/>
<rect x="1310.57" y="433.75" width="74.15" height="63.40" fill="#fff4ef" fill-opacity="0.8"/>
<rect x="1384.42" y="433.75" width="74.15" height="63.40" fill="#f4ecff" fill-opacity="0.8"/>
<rect x="1458.27" y="433.75" width="74.15" height="63.40" fill="#d9c0ff" fill-opacity="0.8"/>
<rect x="1532.12" y="433.75" width="74.15" height="63.40" fill="#b38bff" fill-opacity="0.8"/>
<rect x="1089.02" y="496.85" width="74.15" height="63.40" fill="#ffe6dd" fill-opacity="0.8"/>
<rect x="1162.88" y="496.85" width="74.15" height="63.40" fill="#ffe4db" fill-opacity="0.8"/>
<rect x="1236.72" y="496.85" width="74.15" height="63.40" fill="#ffeae2" fill-opacity="0.8"/>
<rect x="1310.57" y="496.85" width="74.15" height="63.40" fill="#fff9f7" fill-opacity="0.8"/>
<rect x="1384.42" y="496.85" width="74.15" height="63.40" fill="#f0e5ff" fill-opacity="0.8"/>
<rect x="1458.27" y="496.85" width="74.15" height="63.40" fill="#d7beff" fill-opacity="0.8"/>
<rect x="1532.12" y="496.85" width="74.15" height="63.40" fill="#b892ff" fill-opacity="0.8"/>
<rect x="1089.02" y="559.95" width="74.15" height="63.40" fill="#ffeee8" fill-opacity="0.8"/>
<rect x="1162.88" y="559.95" width="74.15" height="63.40" fill="#ffeee8" fill-opacity="0.8"/>
<rect x="1236.72" y="559.95" width="74.15" height="63.40" fill="#fff5f2" fill-opacity="0.8"/>
<rect x="1310.57" y="559.95" width="74.15" height="63.40" fill="#faf6ff" fill-opacity="0.8"/>
<rect x="1384.42" y="559.95" width="74.15" height="63.40" fill="#e9d9ff" fill-opacity="0.8"/>
<rect x="1458.27" y="559.95" width="74.15" height="63.40" fill="#d4b9ff" fill-opacity="0.8"/>
<rect x="1532.12" y="559.95" width="74.15" height="63.40" fill="#bd99ff" fill-opacity="0.8"/>
<rect x="1605.97" y="559.95" width="74.15" height="63.40" fill="#aa80ff" fill-opacity="0.8"/>
<rect x="1089.02" y="623.05" width="74.15" height="63.40" fill="#fff9f7" fill-opacity="0.8"/>
<rect x="1162.88" y="623.05" width="74.15" height="63.40" fill="#ffffff" fill-opacity="0.8"/>
<rect x="1236.72" y="623.05" width="74.15" height="63.40" fill="#f8f3ff" fill-opacity="0.8"/>
<rect x="1310.57" y="623.05" width="74.15" height="63.40" fill="#efe3ff" fill-opacity="0.8"/>
<rect x="1384.42" y="623.05" width="74.15" height="63.40" fill="#e0cbff" fill-opacity="0.8"/>
<rect x="1458.27" y="623.05" width="74.15" height="63.40" fill="#d1b4ff" fill-opacity="0.8"/>
<rect x="1532.12" y="623.05" width="74.15" height="63.40" fill="#c19dff" fill-opacity="0.8"/>
<rect x="1605.97" y="623.05" width="74.15" height="63.40" fill="#b690ff" fill-opacity="0.8"/>
<rect x="1089.02" y="686.15" width="74.15" height="63.40" fill="#fbf8ff" fill-opacity="0.8"/>
<rect x="1162.88" y="686.15" width="74.15" height="63.40" fill="#f2e7ff" fill-opacity="0.8"/>
<rect x="1236.72" y="686.15" width="74.15" height="63.40" fill="#e8d7ff" fill-opacity="0.8"/>
<rect x="1310.57" y="686.15" width="74.15" height="63.40" fill="#dfc9ff" fill-opacity="0.8"/>
<rect x="1384.42" y="686.15" width="74.15" height="63.40" fill="#d6bbff" fill-opacity="0.8"/>
<rect x="1458.27" y="686.15" width="74.15" height="63.40" fill="#ccadff" fill-opacity="0.8"/>
<rect x="1532.12" y="686.15" width="74.15" height="63.40" fill="#c3a0ff" fill-opacity="0.8"/>
<rect x="1605.97" y="686.15" width="74.15" height="63.40" fill="#bd99ff" fill-opacity="0.8"/>
<rect x="1089.02" y="749.25" width="74.15" height="63.40" fill="#f2e7ff" fill-opacity="0.8"/>
<rect x="1162.88" y="749.25" width="74.15" height="63.40" fill="#e2ceff" fill-opacity="0.8"/>
<rect x="1236.72" y="749.25" width="74.15" height="63.40" fill="#d6bbff" fill-opacity="0.8"/>
<rect x="1310.57" y="749.25" width="74.15" height="63.40" fill="#d0b2ff" fill-opacity="0.8"/>
<rect x="1384.42" y="749.25" width="74.15" height="63.40" fill="#cbabff" fill-opacity="0.8"/>
<rect x="1458.27" y="749.25" width="74.15" height="63.40" fill="#c6a4ff" fill-opacity="0.8"/>
<rect x="1532.12" y="749.25" width="74.15" height="63.40" fill="#c19dff" fill-opacity="0.8"/>
<rect x="1605.97" y="749.25" width="74.15" height="63.40" fill="#c19dff" fill-opacity="0.8"/>
<ellipse cx="1098" cy="275.6" rx="8.8" ry="7.4" fill="#000" fill-opacity="0.09"/>
<ellipse cx="1228.6" cy="285" rx="8.8" ry="7.4" fill="#000" fill-opacity="0.09"/>
<ellipse cx="1249.4" cy="295" rx="8.8" ry="7.4" fill="#000" fill-opacity="0.09"/>
<ellipse cx="1284" cy="308" rx="8.8" ry="7.4" fill="#000" fill-opacity="0.09"/>
<ellipse cx="1142.4" cy="312.4" rx="8.8" ry="7.4" fill="#000" fill-opacity="0.09"/>
<ellipse cx="1297" cy="355" rx="8.8" ry="7.4" fill="#000" fill-opacity="0.09"/>
<ellipse cx="1292" cy="372" rx="8.8" ry="7.4" fill="#000" fill-opacity="0.09"/>
<ellipse cx="1192.6" cy="372" rx="8.8" ry="7.4" fill="#000" fill-opacity="0.09"/>
<ellipse cx="1126" cy="394" rx="8.8" ry="7.4" fill="#000" fill-opacity="0.09"/>
<ellipse cx="1130" cy="396" rx="8.8" ry="7.4" fill="#000" fill-opacity="0.09"/>
<ellipse cx="1411" cy="338" rx="8.8" ry="7.4" fill="#000" fill-opacity="0.09"/>
<ellipse cx="1392" cy="361.4" rx="8.8" ry="7.4" fill="#000" fill-opacity="0.09"/>
<ellipse cx="1388" cy="405" rx="8.8" ry="7.4" fill="#000" fill-opacity="0.09"/>
<ellipse cx="1469" cy="422.4" rx="8.8" ry="7.4" fill="#000" fill-opacity="0.09"/>
<ellipse cx="1053" cy="453" rx="8.8" ry="7.4" fill="#000" fill-opacity="0.09"/>
<ellipse cx="1128" cy="469.6" rx="8.8" ry="7.4" fill="#000" fill-opacity="0.09"/>
<ellipse cx="1311" cy="455" rx="8.8" ry="7.4" fill="#000" fill-opacity="0.09"/>
<ellipse cx="1295" cy="467" rx="8.8" ry="7.4" fill="#000" fill-opacity="0.09"/>
<ellipse cx="1266" cy="486.4" rx="8.8" ry="7.4" fill="#000" fill-opacity="0.09"/>
<ellipse cx="1326" cy="481" rx="8.8" ry="7.4" fill="#000" fill-opacity="0.09"/>
<ellipse cx="1341" cy="476" rx="8.8" ry="7.4" fill="#000" fill-opacity="0.09"/>
<ellipse cx="1166" cy="525" rx="8.8" ry="7.4" fill="#000" fill-opacity="0.09"/>
<ellipse cx="1171.6" cy="548.4" rx="8.8" ry="7.4" fill="#000" fill-opacity="0.09"/>
<ellipse cx="1268" cy="545.6" rx="8.8" ry="7.4" fill="#000" fill-opacity="0.09"/>
<ellipse cx="1194" cy="558" rx="8.8" ry="7.4" fill="#000" fill-opacity="0.09"/>
<ellipse cx="1202" cy="557.6" rx="8.8" ry="7.4" fill="#000" fill-opacity="0.09"/>
<ellipse cx="1090.6" cy="562" rx="8.8" ry="7.4" fill="#000" fill-opacity="0.09"/>
<ellipse cx="1116.6" cy="568.6" rx="8.8" ry="7.4" fill="#000" fill-opacity="0.09"/>
<ellipse cx="1151.6" cy="571" rx="8.8" ry="7.4" fill="#000" fill-opacity="0.09"/>
<ellipse cx="1227" cy="570" rx="8.8" ry="7.4" fill="#000" fill-opacity="0.09"/>
<ellipse cx="1276" cy="573.6" rx="8.8" ry="7.4" fill="#000" fill-opacity="0.09"/>
<ellipse cx="1263" cy="578.4" rx="8.8" ry="7.4" fill="#000" fill-opacity="0.09"/>
<ellipse cx="1243" cy="581.6" rx="8.8" ry="7.4" fill="#000" fill-opacity="0.09"/>
<ellipse cx="1352" cy="584" rx="8.8" ry="7.4" fill="#000" fill-opacity="0.09"/>
<ellipse cx="1350" cy="600" rx="8.8" ry="7.4" fill="#000" fill-opacity="0.09"/>
<ellipse cx="1106" cy="602.4" rx="8.8" ry="7.4" fill="#000" fill-opacity="0.09"/>
<ellipse cx="1148" cy="603" rx="8.8" ry="7.4" fill="#000" fill-opacity="0.09"/>
<ellipse cx="1228" cy="598" rx="8.8" ry="7.4" fill="#000" fill-opacity="0.09"/>
<ellipse cx="1158" cy="613" rx="8.8" ry="7.4" fill="#000" fill-opacity="0.09"/>
<ellipse cx="1172" cy="609" rx="8.8" ry="7.4" fill="#000" fill-opacity="0.09"/>
<ellipse cx="1183" cy="609" rx="8.8" ry="7.4" fill="#000" fill-opacity="0.09"/>
<ellipse cx="1193" cy="620" rx="8.8" ry="7.4" fill="#000" fill-opacity="0.09"/>
<ellipse cx="1224" cy="614" rx="8.8" ry="7.4" fill="#000" fill-opacity="0.09"/>
<ellipse cx="1241" cy="616.4" rx="8.8" ry="7.4" fill="#000" fill-opacity="0.09"/>
<ellipse cx="1128" cy="640" rx="8.8" ry="7.4" fill="#000" fill-opacity="0.09"/>
<ellipse cx="1161" cy="637" rx="8.8" ry="7.4" fill="#000" fill-opacity="0.09"/>
<ellipse cx="1190" cy="638" rx="8.8" ry="7.4" fill="#000" fill-opacity="0.09"/>
<ellipse cx="1207" cy="640" rx="8.8" ry="7.4" fill="#000" fill-opacity="0.09"/>
<ellipse cx="1285" cy="639" rx="8.8" ry="7.4" fill="#000" fill-opacity="0.09"/>
<ellipse cx="1306" cy="640" rx="8.8" ry="7.4" fill="#000" fill-opacity="0.09"/>
<ellipse cx="1314" cy="638" rx="8.8" ry="7.4" fill="#000" fill-opacity="0.09"/>
<ellipse cx="1442" cy="483" rx="8.8" ry="7.4" fill="#000" fill-opacity="0.09"/>
<ellipse cx="1442" cy="492.4" rx="8.8" ry="7.4" fill="#000" fill-opacity="0.09"/>
<ellipse cx="1391" cy="560" rx="8.8" ry="7.4" fill="#000" fill-opacity="0.09"/>
<ellipse cx="1424" cy="583" rx="8.8" ry="7.4" fill="#000" fill-opacity="0.09"/>
<ellipse cx="1419" cy="595" rx="8.8" ry="7.4" fill="#000" fill-opacity="0.09"/>
<ellipse cx="1509" cy="582" rx="8.8" ry="7.4" fill="#000" fill-opacity="0.09"/>
<ellipse cx="1403" cy="640" rx="8.8" ry="7.4" fill="#000" fill-opacity="0.09"/>
<ellipse cx="1451" cy="641" rx="8.8" ry="7.4" fill="#000" fill-opacity="0.09"/>
<ellipse cx="1628" cy="642" rx="8.8" ry="7.4" fill="#000" fill-opacity="0.09"/>
<ellipse cx="1165" cy="668" rx="8.8" ry="7.4" fill="#000" fill-opacity="0.09"/>
<ellipse cx="1183" cy="664" rx="8.8" ry="7.4" fill="#000" fill-opacity="0.09"/>
<ellipse cx="1075" cy="679" rx="8.8" ry="7.4" fill="#000" fill-opacity="0.09"/>
<ellipse cx="1100.4" cy="681" rx="8.8" ry="7.4" fill="#000" fill-opacity="0.09"/>
<ellipse cx="1175" cy="678" rx="8.8" ry="7.4" fill="#000" fill-opacity="0.09"/>
<ellipse cx="1158" cy="687" rx="8.8" ry="7.4" fill="#000" fill-opacity="0.09"/>
<ellipse cx="1171" cy="687" rx="8.8" ry="7.4" fill="#000" fill-opacity="0.09"/>
<ellipse cx="1270" cy="682" rx="8.8" ry="7.4" fill="#000" fill-opacity="0.09"/>
<ellipse cx="1308" cy="674" rx="8.8" ry="7.4" fill="#000" fill-opacity="0.09"/>
<ellipse cx="1342" cy="675" rx="8.8" ry="7.4" fill="#000" fill-opacity="0.09"/>
<ellipse cx="1360" cy="657" rx="8.8" ry="7.4" fill="#000" fill-opacity="0.09"/>
<ellipse cx="1064" cy="702" rx="8.8" ry="7.4" fill="#000" fill-opacity="0.09"/>
<ellipse cx="1051" cy="710" rx="8.8" ry="7.4" fill="#000" fill-opacity="0.09"/>
<ellipse cx="1168" cy="704" rx="8.8" ry="7.4" fill="#000" fill-opacity="0.09"/>
<ellipse cx="1179" cy="714" rx="8.8" ry="7.4" fill="#000" fill-opacity="0.09"/>
<ellipse cx="1184" cy="722" rx="8.8" ry="7.4" fill="#000" fill-opacity="0.09"/>
<ellipse cx="1083" cy="721" rx="8.8" ry="7.4" fill="#000" fill-opacity="0.09"/>
<ellipse cx="1095" cy="732" rx="8.8" ry="7.4" fill="#000" fill-opacity="0.09"/>
<ellipse cx="1265" cy="724" rx="8.8" ry="7.4" fill="#000" fill-opacity="0.09"/>
<ellipse cx="1169" cy="737" rx="8.8" ry="7.4" fill="#000" fill-opacity="0.09"/>
<ellipse cx="1157" cy="744" rx="8.8" ry="7.4" fill="#000" fill-opacity="0.09"/>
<ellipse cx="1184" cy="742" rx="8.8" ry="7.4" fill="#000" fill-opacity="0.09"/>
<ellipse cx="1089" cy="745" rx="8.8" ry="7.4" fill="#000" fill-opacity="0.09"/>
<ellipse cx="1104" cy="746" rx="8.8" ry="7.4" fill="#000" fill-opacity="0.09"/>
<ellipse cx="1215" cy="741" rx="8.8" ry="7.4" fill="#000" fill-opacity="0.09"/>
<ellipse cx="1205" cy="746" rx="8.8" ry="7.4" fill="#000" fill-opacity="0.09"/>
<ellipse cx="1254" cy="746" rx="8.8" ry="7.4" fill="#000" fill-opacity="0.09"/>
<ellipse cx="1235" cy="751" rx="8.8" ry="7.4" fill="#000" fill-opacity="0.09"/>
<ellipse cx="1067" cy="752" rx="8.8" ry="7.4" fill="#000" fill-opacity="0.09"/>
<ellipse cx="1129" cy="757" rx="8.8" ry="7.4" fill="#000" fill-opacity="0.09"/>
<ellipse cx="1124" cy="757" rx="8.8" ry="7.4" fill="#000" fill-opacity="0.09"/>
<ellipse cx="1158" cy="759" rx="8.8" ry="7.4" fill="#000" fill-opacity="0.09"/>
<ellipse cx="1199" cy="755" rx="8.8" ry="7.4" fill="#000" fill-opacity="0.09"/>
<ellipse cx="1202" cy="760" rx="8.8" ry="7.4" fill="#000" fill-opacity="0.09"/>
<ellipse cx="1232" cy="761" rx="8.8" ry="7.4" fill="#000" fill-opacity="0.09"/>
<ellipse cx="1350" cy="755" rx="8.8" ry="7.4" fill="#000" fill-opacity="0.09"/>
<ellipse cx="1095" cy="768" rx="8.8" ry="7.4" fill="#000" fill-opacity="0.09"/>
<ellipse cx="1199" cy="768" rx="8.8" ry="7.4" fill="#000" fill-opacity="0.09"/>
<ellipse cx="1269" cy="768" rx="8.8" ry="7.4" fill="#000" fill-opacity="0.09"/>
<ellipse cx="1336" cy="770" rx="8.8" ry="7.4" fill="#000" fill-opacity="0.09"/>
<ellipse cx="1164" cy="772" rx="8.8" ry="7.4" fill="#000" fill-opacity="0.09"/>
<ellipse cx="1174" cy="778" rx="8.8" ry="7.4" fill="#000" fill-opacity="0.09"/>
<ellipse cx="1238" cy="779" rx="8.8" ry="7.4" fill="#000" fill-opacity="0.09"/>
<ellipse cx="1157" cy="786" rx="8.8" ry="7.4" fill="#000" fill-opacity="0.09"/>
<ellipse cx="1073" cy="786" rx="8.8" ry="7.4" fill="#000" fill-opacity="0.09"/>
<ellipse cx="1174" cy="792" rx="8.8" ry="7.4" fill="#000" fill-opacity="0.09"/>
<ellipse cx="1283" cy="800" rx="8.8" ry="7.4" fill="#000" fill-opacity="0.09"/>
<ellipse cx="1308" cy="801" rx="8.8" ry="7.4" fill="#000" fill-opacity="0.09"/>
<ellipse cx="1322" cy="805" rx="8.8" ry="7.4" fill="#000" fill-opacity="0.09"/>
<ellipse cx="1328" cy="787" rx="8.8" ry="7.4" fill="#000" fill-opacity="0.09"/>
<ellipse cx="1328" cy="819" rx="8.8" ry="7.4" fill="#000" fill-opacity="0.09"/>
<ellipse cx="1328" cy="829" rx="8.8" ry="7.4" fill="#000" fill-opacity="0.09"/>
<ellipse cx="1287" cy="828" rx="8.8" ry="7.4" fill="#000" fill-opacity="0.09"/>
<ellipse cx="1552" cy="649" rx="8.8" ry="7.4" fill="#000" fill-opacity="0.09"/>
<ellipse cx="1402" cy="688" rx="8.8" ry="7.4" fill="#000" fill-opacity="0.09"/>
<ellipse cx="1394" cy="698" rx="8.8" ry="7.4" fill="#000" fill-opacity="0.09"/>
<ellipse cx="1439" cy="703" rx="8.8" ry="7.4" fill="#000" fill-opacity="0.09"/>
<ellipse cx="1379" cy="731" rx="8.8" ry="7.4" fill="#000" fill-opacity="0.09"/>
<ellipse cx="1465" cy="732" rx="8.8" ry="7.4" fill="#000" fill-opacity="0.09"/>
<ellipse cx="1457" cy="739" rx="8.8" ry="7.4" fill="#000" fill-opacity="0.09"/>
<ellipse cx="1603" cy="758" rx="8.8" ry="7.4" fill="#000" fill-opacity="0.09"/>
<ellipse cx="1619" cy="791" rx="8.8" ry="7.4" fill="#000" fill-opacity="0.09"/>
<ellipse cx="1372" cy="802" rx="8.8" ry="7.4" fill="#000" fill-opacity="0.09"/>
<ellipse cx="1385" cy="809" rx="8.8" ry="7.4" fill="#000" fill-opacity="0.09"/>
<ellipse cx="1509" cy="807" rx="8.8" ry="7.4" fill="#000" fill-opacity="0.09"/>
<ellipse cx="1542" cy="803" rx="8.8" ry="7.4" fill="#000" fill-opacity="0.09"/>
<ellipse cx="1590" cy="801" rx="8.8" ry="7.4" fill="#000" fill-opacity="0.09"/>
<ellipse cx="1599" cy="811" rx="8.8" ry="7.4" fill="#000" fill-opacity="0.09"/>
<ellipse cx="1405" cy="830" rx="8.8" ry="7.4" fill="#000" fill-opacity="0.09"/>
<ellipse cx="1414" cy="831" rx="8.8" ry="7.4" fill="#000" fill-opacity="0.09"/>
<ellipse cx="1400" cy="837" rx="8.8" ry="7.4" fill="#000" fill-opacity="0.09"/>
<ellipse cx="1467" cy="828" rx="8.8" ry="7.4" fill="#000" fill-opacity="0.09"/>
<ellipse cx="1709" cy="650" rx="8.8" ry="7.4" fill="#000" fill-opacity="0.09"/>
<ellipse cx="1449" cy="843.5" rx="8.8" ry="7.4" fill="#000" fill-opacity="0.09"/>
<ellipse cx="1496" cy="841" rx="8.8" ry="7.4" fill="#000" fill-opacity="0.09"/>
<ellipse cx="1534" cy="843.5" rx="8.8" ry="7.4" fill="#000" fill-opacity="0.09"/>
<ellipse cx="1642" cy="840" rx="8.8" ry="7.4" fill="#000" fill-opacity="0.09"/>
<ellipse cx="1716.6" cy="837" rx="8.8" ry="7.4" fill="#000" fill-opacity="0.09"/>
<text transform="translate(1051.70,283.40) scale(1.165,1)" font-size="20.2" fill="#000" text-anchor="middle" stroke="#000" stroke-width="0.45"><tspan dy="1.7" stroke-width="0.1">+</tspan><tspan dy="-1.7">0.03</tspan></text>
<text transform="translate(1125.55,283.40) scale(1.165,1)" font-size="20.2" fill="#000" text-anchor="middle" stroke="#000" stroke-width="0.45"><tspan dy="1.7" stroke-width="0.1">+</tspan><tspan dy="-1.7">0.03</tspan></text>
<text transform="translate(1199.40,283.40) scale(1.165,1)" font-size="20.2" fill="#000" text-anchor="middle" stroke="#000" stroke-width="0.45"><tspan dy="1.7" stroke-width="0.1">+</tspan><tspan dy="-1.7">0.01</tspan></text>
<text transform="translate(1273.25,283.40) scale(1.165,1)" font-size="20.2" fill="#000" text-anchor="middle" stroke="#000" stroke-width="0.45"><tspan dy="1.0" stroke-width="0.1">−</tspan><tspan dy="-1.0">0.03</tspan></text>
<text transform="translate(1347.10,283.40) scale(1.165,1)" font-size="20.2" fill="#000" text-anchor="middle" stroke="#000" stroke-width="0.45"><tspan dy="1.0" stroke-width="0.1">−</tspan><tspan dy="-1.0">0.09</tspan></text>
<text transform="translate(1420.95,283.40) scale(1.165,1)" font-size="20.2" fill="#000" text-anchor="middle" stroke="#000" stroke-width="0.45"><tspan dy="1.0" stroke-width="0.1">−</tspan><tspan dy="-1.0">0.17</tspan></text>
<text transform="translate(1051.70,346.50) scale(1.165,1)" font-size="20.2" fill="#000" text-anchor="middle" stroke="#000" stroke-width="0.45"><tspan dy="1.7" stroke-width="0.1">+</tspan><tspan dy="-1.7">0.09</tspan></text>
<text transform="translate(1125.55,346.50) scale(1.165,1)" font-size="20.2" fill="#000" text-anchor="middle" stroke="#000" stroke-width="0.45"><tspan dy="1.7" stroke-width="0.1">+</tspan><tspan dy="-1.7">0.10</tspan></text>
<text transform="translate(1199.40,346.50) scale(1.165,1)" font-size="20.2" fill="#000" text-anchor="middle" stroke="#000" stroke-width="0.45"><tspan dy="1.7" stroke-width="0.1">+</tspan><tspan dy="-1.7">0.10</tspan></text>
<text transform="translate(1273.25,346.50) scale(1.165,1)" font-size="20.2" fill="#000" text-anchor="middle" stroke="#000" stroke-width="0.45"><tspan dy="1.7" stroke-width="0.1">+</tspan><tspan dy="-1.7">0.07</tspan></text>
<text transform="translate(1347.10,346.50) scale(1.165,1)" font-size="20.2" fill="#000" text-anchor="middle" stroke="#000" stroke-width="0.45"><tspan dy="1.7" stroke-width="0.1">+</tspan><tspan dy="-1.7">0.00</tspan></text>
<text transform="translate(1420.95,346.50) scale(1.165,1)" font-size="20.2" fill="#000" text-anchor="middle" stroke="#000" stroke-width="0.45"><tspan dy="1.0" stroke-width="0.1">−</tspan><tspan dy="-1.0">0.10</tspan></text>
<text transform="translate(1494.80,346.50) scale(1.165,1)" font-size="20.2" fill="#000" text-anchor="middle" stroke="#000" stroke-width="0.45"><tspan dy="1.0" stroke-width="0.1">−</tspan><tspan dy="-1.0">0.26</tspan></text>
<text transform="translate(1051.70,409.60) scale(1.165,1)" font-size="20.2" fill="#000" text-anchor="middle" stroke="#000" stroke-width="0.45"><tspan dy="1.7" stroke-width="0.1">+</tspan><tspan dy="-1.7">0.11</tspan></text>
<text transform="translate(1125.55,409.60) scale(1.165,1)" font-size="20.2" fill="#000" text-anchor="middle" stroke="#000" stroke-width="0.45"><tspan dy="1.7" stroke-width="0.1">+</tspan><tspan dy="-1.7">0.14</tspan></text>
<text transform="translate(1199.40,409.60) scale(1.165,1)" font-size="20.2" fill="#000" text-anchor="middle" stroke="#000" stroke-width="0.45"><tspan dy="1.7" stroke-width="0.1">+</tspan><tspan dy="-1.7">0.15</tspan></text>
<text transform="translate(1273.25,409.60) scale(1.165,1)" font-size="20.2" fill="#000" text-anchor="middle" stroke="#000" stroke-width="0.45"><tspan dy="1.7" stroke-width="0.1">+</tspan><tspan dy="-1.7">0.12</tspan></text>
<text transform="translate(1347.10,409.60) scale(1.165,1)" font-size="20.2" fill="#000" text-anchor="middle" stroke="#000" stroke-width="0.45"><tspan dy="1.7" stroke-width="0.1">+</tspan><tspan dy="-1.7">0.05</tspan></text>
<text transform="translate(1420.95,409.60) scale(1.165,1)" font-size="20.2" fill="#000" text-anchor="middle" stroke="#000" stroke-width="0.45"><tspan dy="1.0" stroke-width="0.1">−</tspan><tspan dy="-1.0">0.07</tspan></text>
<text transform="translate(1494.80,409.60) scale(1.165,1)" font-size="20.2" fill="#000" text-anchor="middle" stroke="#000" stroke-width="0.45"><tspan dy="1.0" stroke-width="0.1">−</tspan><tspan dy="-1.0">0.26</tspan></text>
<text transform="translate(1051.70,472.70) scale(1.165,1)" font-size="20.2" fill="#000" text-anchor="middle" stroke="#000" stroke-width="0.45"><tspan dy="1.7" stroke-width="0.1">+</tspan><tspan dy="-1.7">0.12</tspan></text>
<text transform="translate(1125.55,472.70) scale(1.165,1)" font-size="20.2" fill="#000" text-anchor="middle" stroke="#000" stroke-width="0.45"><tspan dy="1.7" stroke-width="0.1">+</tspan><tspan dy="-1.7">0.15</tspan></text>
<text transform="translate(1199.40,472.70) scale(1.165,1)" font-size="20.2" fill="#000" text-anchor="middle" stroke="#000" stroke-width="0.45"><tspan dy="1.7" stroke-width="0.1">+</tspan><tspan dy="-1.7">0.16</tspan></text>
<text transform="translate(1273.25,472.70) scale(1.165,1)" font-size="20.2" fill="#000" text-anchor="middle" stroke="#000" stroke-width="0.45"><tspan dy="1.7" stroke-width="0.1">+</tspan><tspan dy="-1.7">0.13</tspan></text>
<text transform="translate(1347.10,472.70) scale(1.165,1)" font-size="20.2" fill="#000" text-anchor="middle" stroke="#000" stroke-width="0.45"><tspan dy="1.7" stroke-width="0.1">+</tspan><tspan dy="-1.7">0.06</tspan></text>
<text transform="translate(1420.95,472.70) scale(1.165,1)" font-size="20.2" fill="#000" text-anchor="middle" stroke="#000" stroke-width="0.45"><tspan dy="1.0" stroke-width="0.1">−</tspan><tspan dy="-1.0">0.08</tspan></text>
<text transform="translate(1494.80,472.70) scale(1.165,1)" font-size="20.2" fill="#000" text-anchor="middle" stroke="#000" stroke-width="0.45"><tspan dy="1.0" stroke-width="0.1">−</tspan><tspan dy="-1.0">0.27</tspan></text>
<text transform="translate(1568.65,472.70) scale(1.165,1)" font-size="20.2" fill="#000" text-anchor="middle" stroke="#000" stroke-width="0.45"><tspan dy="1.0" stroke-width="0.1">−</tspan><tspan dy="-1.0">0.50</tspan></text>
<text transform="translate(1051.70,535.80) scale(1.165,1)" font-size="20.2" fill="#000" text-anchor="middle" stroke="#000" stroke-width="0.45"><tspan dy="1.7" stroke-width="0.1">+</tspan><tspan dy="-1.7">0.10</tspan></text>
<text transform="translate(1125.55,535.80) scale(1.165,1)" font-size="20.2" fill="#000" text-anchor="middle" stroke="#000" stroke-width="0.45"><tspan dy="1.7" stroke-width="0.1">+</tspan><tspan dy="-1.7">0.13</tspan></text>
<text transform="translate(1199.40,535.80) scale(1.165,1)" font-size="20.2" fill="#000" text-anchor="middle" stroke="#000" stroke-width="0.45"><tspan dy="1.7" stroke-width="0.1">+</tspan><tspan dy="-1.7">0.14</tspan></text>
<text transform="translate(1273.25,535.80) scale(1.165,1)" font-size="20.2" fill="#000" text-anchor="middle" stroke="#000" stroke-width="0.45"><tspan dy="1.7" stroke-width="0.1">+</tspan><tspan dy="-1.7">0.11</tspan></text>
<text transform="translate(1347.10,535.80) scale(1.165,1)" font-size="20.2" fill="#000" text-anchor="middle" stroke="#000" stroke-width="0.45"><tspan dy="1.7" stroke-width="0.1">+</tspan><tspan dy="-1.7">0.03</tspan></text>
<text transform="translate(1420.95,535.80) scale(1.165,1)" font-size="20.2" fill="#000" text-anchor="middle" stroke="#000" stroke-width="0.45"><tspan dy="1.0" stroke-width="0.1">−</tspan><tspan dy="-1.0">0.11</tspan></text>
<text transform="translate(1494.80,535.80) scale(1.165,1)" font-size="20.2" fill="#000" text-anchor="middle" stroke="#000" stroke-width="0.45"><tspan dy="1.0" stroke-width="0.1">−</tspan><tspan dy="-1.0">0.28</tspan></text>
<text transform="translate(1568.65,535.80) scale(1.165,1)" font-size="20.2" fill="#000" text-anchor="middle" stroke="#000" stroke-width="0.45"><tspan dy="1.0" stroke-width="0.1">−</tspan><tspan dy="-1.0">0.47</tspan></text>
<text transform="translate(1051.70,598.90) scale(1.165,1)" font-size="20.2" fill="#000" text-anchor="middle" stroke="#000" stroke-width="0.45"><tspan dy="1.7" stroke-width="0.1">+</tspan><tspan dy="-1.7">0.06</tspan></text>
<text transform="translate(1125.55,598.90) scale(1.165,1)" font-size="20.2" fill="#000" text-anchor="middle" stroke="#000" stroke-width="0.45"><tspan dy="1.7" stroke-width="0.1">+</tspan><tspan dy="-1.7">0.09</tspan></text>
<text transform="translate(1199.40,598.90) scale(1.165,1)" font-size="20.2" fill="#000" text-anchor="middle" stroke="#000" stroke-width="0.45"><tspan dy="1.7" stroke-width="0.1">+</tspan><tspan dy="-1.7">0.09</tspan></text>
<text transform="translate(1273.25,598.90) scale(1.165,1)" font-size="20.2" fill="#000" text-anchor="middle" stroke="#000" stroke-width="0.45"><tspan dy="1.7" stroke-width="0.1">+</tspan><tspan dy="-1.7">0.05</tspan></text>
<text transform="translate(1347.10,598.90) scale(1.165,1)" font-size="20.2" fill="#000" text-anchor="middle" stroke="#000" stroke-width="0.45"><tspan dy="1.0" stroke-width="0.1">−</tspan><tspan dy="-1.0">0.04</tspan></text>
<text transform="translate(1420.95,598.90) scale(1.165,1)" font-size="20.2" fill="#000" text-anchor="middle" stroke="#000" stroke-width="0.45"><tspan dy="1.0" stroke-width="0.1">−</tspan><tspan dy="-1.0">0.16</tspan></text>
<text transform="translate(1494.80,598.90) scale(1.165,1)" font-size="20.2" fill="#000" text-anchor="middle" stroke="#000" stroke-width="0.45"><tspan dy="1.0" stroke-width="0.1">−</tspan><tspan dy="-1.0">0.30</tspan></text>
<text transform="translate(1568.65,598.90) scale(1.165,1)" font-size="20.2" fill="#000" text-anchor="middle" stroke="#000" stroke-width="0.45"><tspan dy="1.0" stroke-width="0.1">−</tspan><tspan dy="-1.0">0.44</tspan></text>
<text transform="translate(1642.50,598.90) scale(1.165,1)" font-size="20.2" fill="#000" text-anchor="middle" stroke="#000" stroke-width="0.45"><tspan dy="1.0" stroke-width="0.1">−</tspan><tspan dy="-1.0">0.55</tspan></text>
<text transform="translate(1716.35,598.90) scale(1.165,1)" font-size="20.2" fill="#000" text-anchor="middle" stroke="#000" stroke-width="0.45"><tspan dy="1.0" stroke-width="0.1">−</tspan><tspan dy="-1.0">0.60</tspan></text>
<text transform="translate(1051.70,662.00) scale(1.165,1)" font-size="20.2" fill="#000" text-anchor="middle" stroke="#000" stroke-width="0.45"><tspan dy="1.7" stroke-width="0.1">+</tspan><tspan dy="-1.7">0.04</tspan></text>
<text transform="translate(1125.55,662.00) scale(1.165,1)" font-size="20.2" fill="#000" text-anchor="middle" stroke="#000" stroke-width="0.45"><tspan dy="1.7" stroke-width="0.1">+</tspan><tspan dy="-1.7">0.03</tspan></text>
<text transform="translate(1199.40,662.00) scale(1.165,1)" font-size="20.2" fill="#000" text-anchor="middle" stroke="#000" stroke-width="0.45"><tspan dy="1.0" stroke-width="0.1">−</tspan><tspan dy="-1.0">0.00</tspan></text>
<text transform="translate(1273.25,662.00) scale(1.165,1)" font-size="20.2" fill="#000" text-anchor="middle" stroke="#000" stroke-width="0.45"><tspan dy="1.0" stroke-width="0.1">−</tspan><tspan dy="-1.0">0.05</tspan></text>
<text transform="translate(1347.10,662.00) scale(1.165,1)" font-size="20.2" fill="#000" text-anchor="middle" stroke="#000" stroke-width="0.45"><tspan dy="1.0" stroke-width="0.1">−</tspan><tspan dy="-1.0">0.12</tspan></text>
<text transform="translate(1420.95,662.00) scale(1.165,1)" font-size="20.2" fill="#000" text-anchor="middle" stroke="#000" stroke-width="0.45"><tspan dy="1.0" stroke-width="0.1">−</tspan><tspan dy="-1.0">0.22</tspan></text>
<text transform="translate(1494.80,662.00) scale(1.165,1)" font-size="20.2" fill="#000" text-anchor="middle" stroke="#000" stroke-width="0.45"><tspan dy="1.0" stroke-width="0.1">−</tspan><tspan dy="-1.0">0.32</tspan></text>
<text transform="translate(1568.65,662.00) scale(1.165,1)" font-size="20.2" fill="#000" text-anchor="middle" stroke="#000" stroke-width="0.45"><tspan dy="1.0" stroke-width="0.1">−</tspan><tspan dy="-1.0">0.42</tspan></text>
<text transform="translate(1642.50,662.00) scale(1.165,1)" font-size="20.2" fill="#000" text-anchor="middle" stroke="#000" stroke-width="0.45"><tspan dy="1.0" stroke-width="0.1">−</tspan><tspan dy="-1.0">0.48</tspan></text>
<text transform="translate(1716.35,662.00) scale(1.165,1)" font-size="20.2" fill="#000" text-anchor="middle" stroke="#000" stroke-width="0.45"><tspan dy="1.0" stroke-width="0.1">−</tspan><tspan dy="-1.0">0.49</tspan></text>
<text transform="translate(1051.70,725.10) scale(1.165,1)" font-size="20.2" fill="#000" text-anchor="middle" stroke="#000" stroke-width="0.45"><tspan dy="1.7" stroke-width="0.1">+</tspan><tspan dy="-1.7">0.03</tspan></text>
<text transform="translate(1125.55,725.10) scale(1.165,1)" font-size="20.2" fill="#000" text-anchor="middle" stroke="#000" stroke-width="0.45"><tspan dy="1.0" stroke-width="0.1">−</tspan><tspan dy="-1.0">0.03</tspan></text>
<text transform="translate(1199.40,725.10) scale(1.165,1)" font-size="20.2" fill="#000" text-anchor="middle" stroke="#000" stroke-width="0.45"><tspan dy="1.0" stroke-width="0.1">−</tspan><tspan dy="-1.0">0.10</tspan></text>
<text transform="translate(1273.25,725.10) scale(1.165,1)" font-size="20.2" fill="#000" text-anchor="middle" stroke="#000" stroke-width="0.45"><tspan dy="1.0" stroke-width="0.1">−</tspan><tspan dy="-1.0">0.17</tspan></text>
<text transform="translate(1347.10,725.10) scale(1.165,1)" font-size="20.2" fill="#000" text-anchor="middle" stroke="#000" stroke-width="0.45"><tspan dy="1.0" stroke-width="0.1">−</tspan><tspan dy="-1.0">0.23</tspan></text>
<text transform="translate(1420.95,725.10) scale(1.165,1)" font-size="20.2" fill="#000" text-anchor="middle" stroke="#000" stroke-width="0.45"><tspan dy="1.0" stroke-width="0.1">−</tspan><tspan dy="-1.0">0.29</tspan></text>
<text transform="translate(1494.80,725.10) scale(1.165,1)" font-size="20.2" fill="#000" text-anchor="middle" stroke="#000" stroke-width="0.45"><tspan dy="1.0" stroke-width="0.1">−</tspan><tspan dy="-1.0">0.35</tspan></text>
<text transform="translate(1568.65,725.10) scale(1.165,1)" font-size="20.2" fill="#000" text-anchor="middle" stroke="#000" stroke-width="0.45"><tspan dy="1.0" stroke-width="0.1">−</tspan><tspan dy="-1.0">0.41</tspan></text>
<text transform="translate(1642.50,725.10) scale(1.165,1)" font-size="20.2" fill="#000" text-anchor="middle" stroke="#000" stroke-width="0.45"><tspan dy="1.0" stroke-width="0.1">−</tspan><tspan dy="-1.0">0.44</tspan></text>
<text transform="translate(1716.35,725.10) scale(1.165,1)" font-size="20.2" fill="#000" text-anchor="middle" stroke="#000" stroke-width="0.45"><tspan dy="1.0" stroke-width="0.1">−</tspan><tspan dy="-1.0">0.42</tspan></text>
<text transform="translate(1051.70,788.20) scale(1.165,1)" font-size="20.2" fill="#000" text-anchor="middle" stroke="#000" stroke-width="0.45"><tspan dy="1.0" stroke-width="0.1">−</tspan><tspan dy="-1.0">0.00</tspan></text>
<text transform="translate(1125.55,788.20) scale(1.165,1)" font-size="20.2" fill="#000" text-anchor="middle" stroke="#000" stroke-width="0.45"><tspan dy="1.0" stroke-width="0.1">−</tspan><tspan dy="-1.0">0.10</tspan></text>
<text transform="translate(1199.40,788.20) scale(1.165,1)" font-size="20.2" fill="#000" text-anchor="middle" stroke="#000" stroke-width="0.45"><tspan dy="1.0" stroke-width="0.1">−</tspan><tspan dy="-1.0">0.21</tspan></text>
<text transform="translate(1273.25,788.20) scale(1.165,1)" font-size="20.2" fill="#000" text-anchor="middle" stroke="#000" stroke-width="0.45"><tspan dy="1.0" stroke-width="0.1">−</tspan><tspan dy="-1.0">0.29</tspan></text>
<text transform="translate(1347.10,788.20) scale(1.165,1)" font-size="20.2" fill="#000" text-anchor="middle" stroke="#000" stroke-width="0.45"><tspan dy="1.0" stroke-width="0.1">−</tspan><tspan dy="-1.0">0.33</tspan></text>
<text transform="translate(1420.95,788.20) scale(1.165,1)" font-size="20.2" fill="#000" text-anchor="middle" stroke="#000" stroke-width="0.45"><tspan dy="1.0" stroke-width="0.1">−</tspan><tspan dy="-1.0">0.36</tspan></text>
<text transform="translate(1494.80,788.20) scale(1.165,1)" font-size="20.2" fill="#000" text-anchor="middle" stroke="#000" stroke-width="0.45"><tspan dy="1.0" stroke-width="0.1">−</tspan><tspan dy="-1.0">0.39</tspan></text>
<text transform="translate(1568.65,788.20) scale(1.165,1)" font-size="20.2" fill="#000" text-anchor="middle" stroke="#000" stroke-width="0.45"><tspan dy="1.0" stroke-width="0.1">−</tspan><tspan dy="-1.0">0.42</tspan></text>
<text transform="translate(1642.50,788.20) scale(1.165,1)" font-size="20.2" fill="#000" text-anchor="middle" stroke="#000" stroke-width="0.45"><tspan dy="1.0" stroke-width="0.1">−</tspan><tspan dy="-1.0">0.42</tspan></text>
<text transform="translate(1716.35,788.20) scale(1.165,1)" font-size="20.2" fill="#000" text-anchor="middle" stroke="#000" stroke-width="0.45"><tspan dy="1.0" stroke-width="0.1">−</tspan><tspan dy="-1.0">0.39</tspan></text>
<text transform="translate(1051.70,851.30) scale(1.165,1)" font-size="20.2" fill="#000" text-anchor="middle" stroke="#000" stroke-width="0.45"><tspan dy="1.0" stroke-width="0.1">−</tspan><tspan dy="-1.0">0.06</tspan></text>
<text transform="translate(1125.55,851.30) scale(1.165,1)" font-size="20.2" fill="#000" text-anchor="middle" stroke="#000" stroke-width="0.45"><tspan dy="1.0" stroke-width="0.1">−</tspan><tspan dy="-1.0">0.18</tspan></text>
<text transform="translate(1199.40,851.30) scale(1.165,1)" font-size="20.2" fill="#000" text-anchor="middle" stroke="#000" stroke-width="0.45"><tspan dy="1.0" stroke-width="0.1">−</tspan><tspan dy="-1.0">0.33</tspan></text>
<text transform="translate(1273.25,851.30) scale(1.165,1)" font-size="20.2" fill="#000" text-anchor="middle" stroke="#000" stroke-width="0.45"><tspan dy="1.0" stroke-width="0.1">−</tspan><tspan dy="-1.0">0.40</tspan></text>
<text transform="translate(1347.10,851.30) scale(1.165,1)" font-size="20.2" fill="#000" text-anchor="middle" stroke="#000" stroke-width="0.45"><tspan dy="1.0" stroke-width="0.1">−</tspan><tspan dy="-1.0">0.43</tspan></text>
<text transform="translate(1420.95,851.30) scale(1.165,1)" font-size="20.2" fill="#000" text-anchor="middle" stroke="#000" stroke-width="0.45"><tspan dy="1.0" stroke-width="0.1">−</tspan><tspan dy="-1.0">0.44</tspan></text>
<text transform="translate(1494.80,851.30) scale(1.165,1)" font-size="20.2" fill="#000" text-anchor="middle" stroke="#000" stroke-width="0.45"><tspan dy="1.0" stroke-width="0.1">−</tspan><tspan dy="-1.0">0.44</tspan></text>
<text transform="translate(1568.65,851.30) scale(1.165,1)" font-size="20.2" fill="#000" text-anchor="middle" stroke="#000" stroke-width="0.45"><tspan dy="1.0" stroke-width="0.1">−</tspan><tspan dy="-1.0">0.44</tspan></text>
<text transform="translate(1642.50,851.30) scale(1.165,1)" font-size="20.2" fill="#000" text-anchor="middle" stroke="#000" stroke-width="0.45"><tspan dy="1.0" stroke-width="0.1">−</tspan><tspan dy="-1.0">0.42</tspan></text>
<text transform="translate(1716.35,851.30) scale(1.165,1)" font-size="20.2" fill="#000" text-anchor="middle" stroke="#000" stroke-width="0.45"><tspan dy="1.0" stroke-width="0.1">−</tspan><tspan dy="-1.0">0.38</tspan></text>
</g>
<rect x="1027.60" y="872.7" width="4.6" height="8.6" fill="#333"/>
<text transform="translate(1029.90,920.60) scale(1.17,1)" font-size="43" fill="#4d4d4d" text-anchor="middle" stroke="#4d4d4d" stroke-width="0.3">0</text>
<rect x="1234.80" y="872.7" width="4.6" height="8.6" fill="#333"/>
<text transform="translate(1237.10,920.60) scale(1.17,1)" font-size="43" fill="#4d4d4d" text-anchor="middle" stroke="#4d4d4d" stroke-width="0.3">1</text>
<rect x="1442.10" y="872.7" width="4.6" height="8.6" fill="#333"/>
<text transform="translate(1444.40,920.60) scale(1.17,1)" font-size="43" fill="#4d4d4d" text-anchor="middle" stroke="#4d4d4d" stroke-width="0.3">2</text>
<rect x="1649.30" y="872.7" width="4.6" height="8.6" fill="#333"/>
<text transform="translate(1651.60,920.60) scale(1.17,1)" font-size="43" fill="#4d4d4d" text-anchor="middle" stroke="#4d4d4d" stroke-width="0.3">3</text>
<rect x="1008.20" y="841.90" width="10.5" height="4" fill="#333"/>
<text transform="translate(999.70,859.30) scale(1.17,1)" font-size="43" fill="#4d4d4d" text-anchor="end" stroke="#4d4d4d" stroke-width="0.3">0</text>
<rect x="1008.20" y="649.50" width="10.5" height="4" fill="#333"/>
<text transform="translate(999.70,666.90) scale(1.17,1)" font-size="43" fill="#4d4d4d" text-anchor="end" stroke="#4d4d4d" stroke-width="0.3">1</text>
<rect x="1008.20" y="456.80" width="10.5" height="4" fill="#333"/>
<text transform="translate(999.70,474.20) scale(1.17,1)" font-size="43" fill="#4d4d4d" text-anchor="end" stroke="#4d4d4d" stroke-width="0.3">2</text>
<rect x="1008.20" y="264.10" width="10.5" height="4" fill="#333"/>
<text transform="translate(999.70,281.50) scale(1.17,1)" font-size="43" fill="#4d4d4d" text-anchor="end" stroke="#4d4d4d" stroke-width="0.3">3</text>
<text transform="translate(1018.70,215.00) scale(1.175,1)" font-size="63.6" fill="#000" text-anchor="start" xml:space="preserve">Regime  2</text>
<text transform="translate(1384.35,977.00) scale(1.2,1)" font-size="53" fill="#000" text-anchor="middle" >house</text>
<text transform="translate(944.70,560.95) scale(1.2,1) rotate(-90)" font-size="53.5" fill="#000" text-anchor="middle" >content</text>
</svg>
</body></html>
